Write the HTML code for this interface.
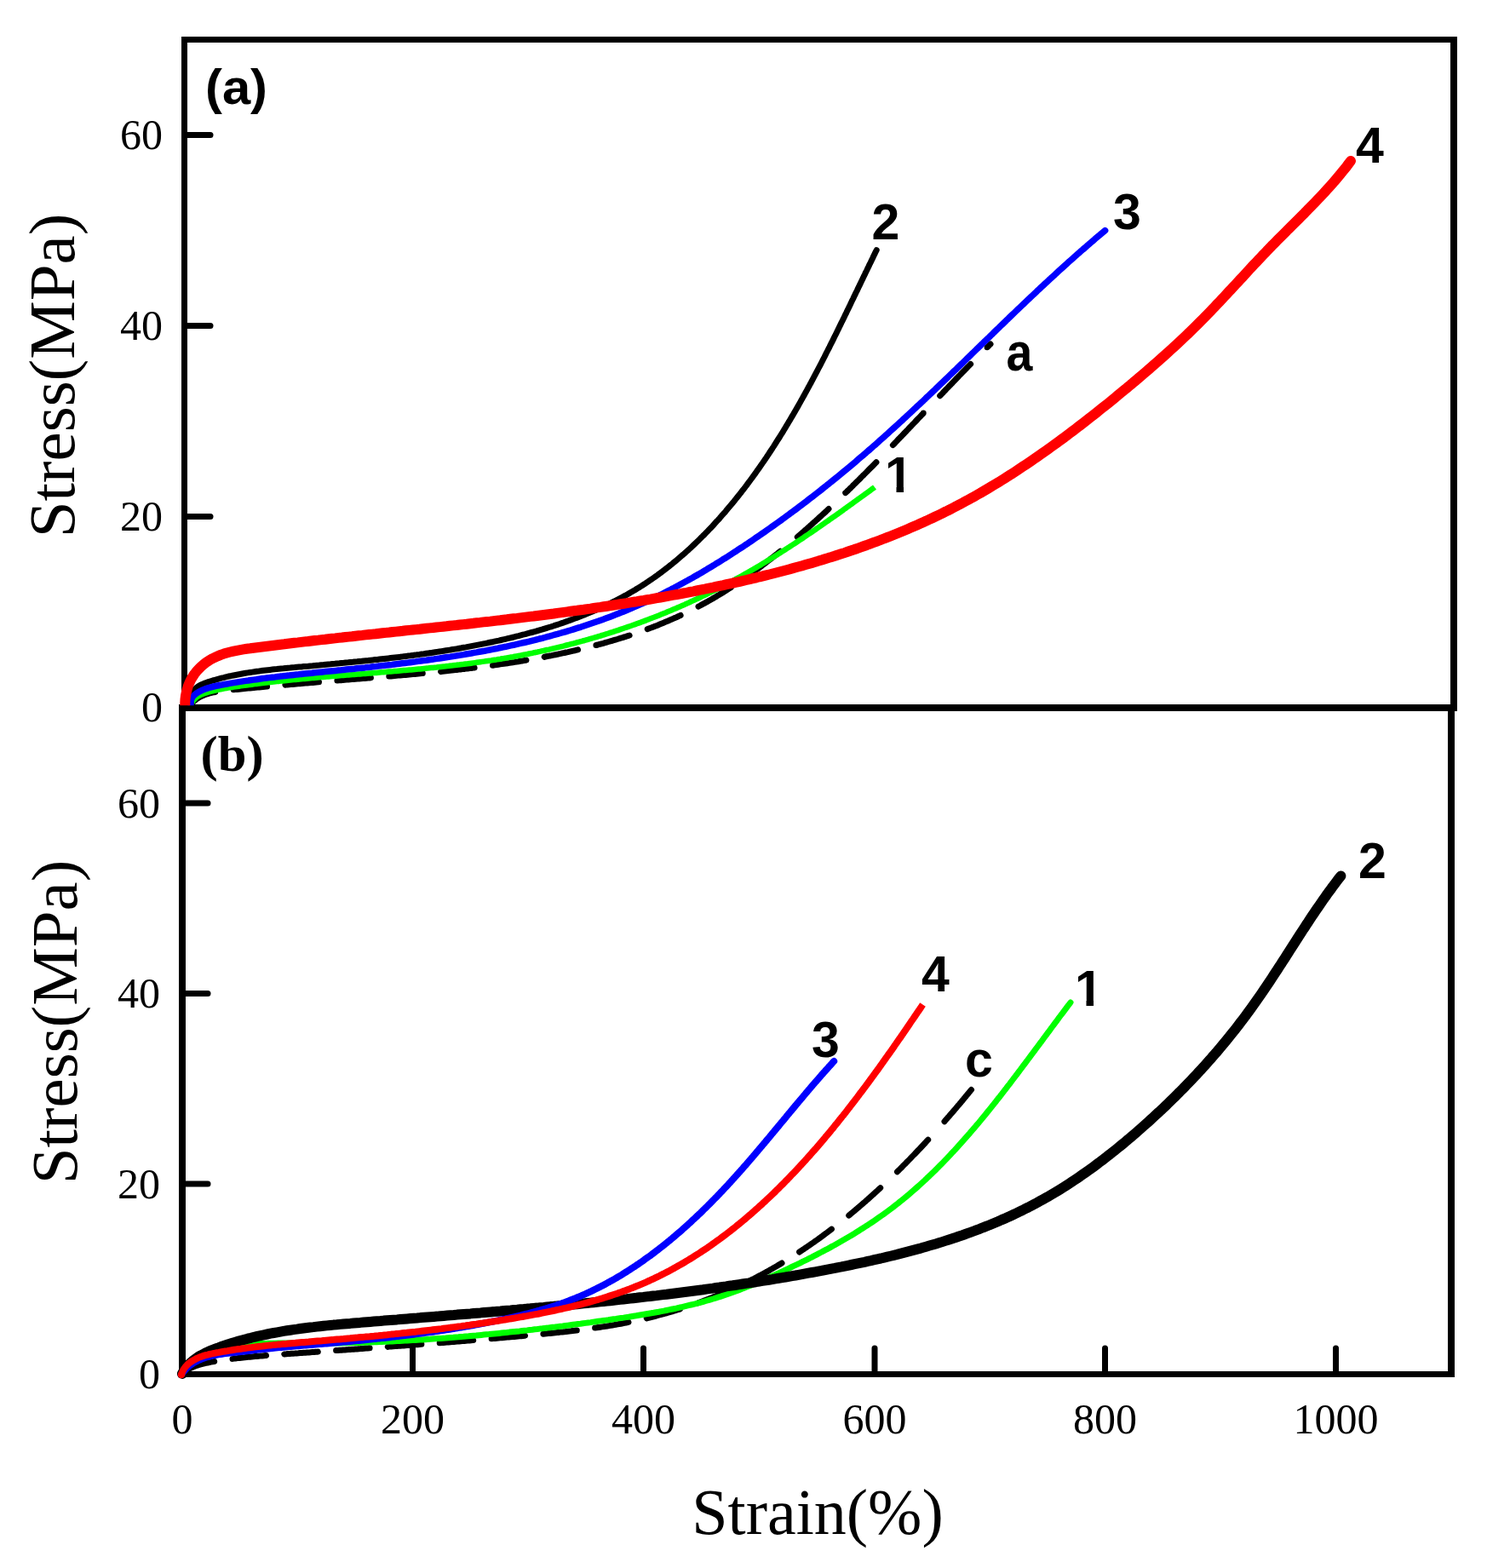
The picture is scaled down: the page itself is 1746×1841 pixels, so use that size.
<!DOCTYPE html>
<html><head><meta charset="utf-8"><title>Stress-Strain</title>
<style>html,body{margin:0;padding:0;background:#fff;overflow:hidden;width:1746px;height:1841px;}svg{display:block;}</style></head>
<body>
<svg width="1746" height="1841" viewBox="0 0 1746 1841">
<rect width="1746" height="1841" fill="#fff"/>
<defs>
<clipPath id="c1u"><rect x="1030" y="520" width="31" height="51.5"/><rect x="1052.5" y="571" width="8.5" height="15"/></clipPath>
<clipPath id="c1l"><rect x="1253" y="1120" width="31" height="54.5"/><rect x="1275.5" y="1174" width="8.5" height="15"/></clipPath>
<clipPath id="clipU"><rect x="0" y="0" width="1746" height="828.2"/></clipPath>
</defs>
<g id="frame">
<line x1="213" y1="46.5" x2="1711" y2="46.5" stroke="#000" stroke-width="7"/>
<line x1="216.5" y1="43" x2="216.5" y2="834" stroke="#000" stroke-width="7"/>
<line x1="1707" y1="43" x2="1707" y2="834" stroke="#000" stroke-width="8"/>
<line x1="210" y1="831" x2="1711" y2="831" stroke="#000" stroke-width="8"/>
<line x1="214" y1="828" x2="214" y2="1617" stroke="#000" stroke-width="8"/>
<line x1="1704" y1="828" x2="1704" y2="1617" stroke="#000" stroke-width="8"/>
<line x1="210" y1="1613.5" x2="1708" y2="1613.5" stroke="#000" stroke-width="7"/>
<line x1="218" y1="158.5" x2="247" y2="158.5" stroke="#000" stroke-width="7" stroke-linecap="round"/>
<line x1="218" y1="382.5" x2="247" y2="382.5" stroke="#000" stroke-width="7" stroke-linecap="round"/>
<line x1="218" y1="606.5" x2="247" y2="606.5" stroke="#000" stroke-width="7" stroke-linecap="round"/>
<line x1="216" y1="943" x2="244" y2="943" stroke="#000" stroke-width="7" stroke-linecap="round"/>
<line x1="216" y1="1166.5" x2="244" y2="1166.5" stroke="#000" stroke-width="7" stroke-linecap="round"/>
<line x1="216" y1="1390" x2="244" y2="1390" stroke="#000" stroke-width="7" stroke-linecap="round"/>
<line x1="484.5" y1="1612" x2="484.5" y2="1583" stroke="#000" stroke-width="7" stroke-linecap="round"/>
<line x1="755.5" y1="1612" x2="755.5" y2="1583" stroke="#000" stroke-width="7" stroke-linecap="round"/>
<line x1="1027" y1="1612" x2="1027" y2="1583" stroke="#000" stroke-width="7" stroke-linecap="round"/>
<line x1="1297.5" y1="1612" x2="1297.5" y2="1583" stroke="#000" stroke-width="7" stroke-linecap="round"/>
<line x1="1568.5" y1="1612" x2="1568.5" y2="1583" stroke="#000" stroke-width="7" stroke-linecap="round"/>
</g>
<g id="curves">
<g clip-path="url(#clipU)">
<path d="M223.9,827.5L224.2,827.2L225.6,825.5L227.0,823.9L228.6,822.5L230.3,821.2L232.0,820.0L233.7,818.9L235.6,817.9L237.5,817.0L239.4,816.2L241.4,815.5L243.4,814.8L245.4,814.2L247.4,813.7L249.5,813.2L251.6,812.7L252.8,812.5M274.2,809.8L274.2,809.8L276.4,809.6L278.5,809.4L280.7,809.2L282.8,809.0L285.0,808.8L287.2,808.5L289.3,808.3L291.5,808.1L293.6,807.9L295.8,807.7L298.0,807.5L300.1,807.3L302.3,807.1L304.4,806.9L306.6,806.7L308.7,806.5L310.9,806.3L313.0,806.1L313.6,806.1M335.0,804.2L335.2,804.1L337.3,804.0L339.5,803.8L341.6,803.6L343.7,803.4L345.9,803.2L348.0,803.0L350.2,802.8L352.3,802.7L354.4,802.5L356.6,802.3L358.7,802.1L360.8,801.9L363.0,801.7L365.1,801.6L367.3,801.4L369.4,801.2L371.5,801.0L373.7,800.8L374.5,800.8M395.9,799.0L396.1,799.0L398.3,798.8L400.4,798.7L402.5,798.5L404.7,798.3L406.8,798.1L409.0,798.0L411.1,797.8L413.3,797.6L415.4,797.4L417.5,797.3L419.7,797.1L421.8,796.9L424.0,796.8L426.1,796.6L428.3,796.4L430.4,796.2L432.6,796.1L434.7,795.9L435.4,795.8M456.8,794.1L456.9,794.1L459.1,793.9L461.2,793.7L463.3,793.5L465.5,793.3L467.6,793.1L469.8,793.0L471.9,792.8L474.1,792.6L476.2,792.4L478.4,792.2L480.5,792.0L482.7,791.8L484.8,791.6L487.0,791.4L489.1,791.2L491.3,791.0L493.4,790.8L495.6,790.6L496.3,790.6M517.7,788.5L517.8,788.4L519.9,788.2L522.1,788.0L524.2,787.8L526.3,787.5L528.5,787.3L530.6,787.1L532.8,786.8L534.9,786.6L537.1,786.4L539.2,786.1L541.4,785.9L543.5,785.6L545.6,785.4L547.8,785.1L549.9,784.9L552.1,784.6L554.2,784.4L556.4,784.1L557.1,784.0M578.5,781.2L578.8,781.2L580.9,780.9L583.1,780.6L585.2,780.3L587.3,779.9L589.5,779.6L591.6,779.3L593.7,779.0L595.9,778.7L598.0,778.4L600.1,778.0L602.3,777.7L604.4,777.4L606.5,777.0L608.6,776.7L610.8,776.3L612.9,776.0L615.0,775.6L617.1,775.3L617.9,775.1M639.3,771.3L639.4,771.2L641.5,770.8L643.6,770.4L645.7,770.0L647.8,769.6L650.0,769.1L652.1,768.7L654.2,768.3L656.3,767.8L658.4,767.4L660.5,766.9L662.6,766.5L664.7,766.0L666.8,765.6L668.9,765.1L671.0,764.6L673.1,764.1L675.2,763.7L677.3,763.2L678.6,762.9M699.9,757.5L700.0,757.5L702.0,757.0L704.1,756.4L706.2,755.8L708.3,755.3L710.4,754.7L712.4,754.1L714.5,753.5L716.6,752.9L718.6,752.3L720.7,751.7L722.8,751.1L724.8,750.5L726.9,749.8L729.0,749.2L731.0,748.6L733.1,747.9L735.1,747.3L737.2,746.6L739.1,746.0M760.2,738.6L760.5,738.5L762.5,737.7L764.6,737.0L766.6,736.2L768.6,735.4L770.6,734.7L772.6,733.9L774.6,733.1L776.5,732.3L778.5,731.5L780.5,730.6L782.5,729.8L784.5,729.0L786.4,728.1L788.4,727.3L790.4,726.4L792.3,725.5L794.3,724.7L796.3,723.8L798.2,722.9L799.1,722.5M820.0,712.1L820.3,712.0L822.2,711.0L824.1,709.9L826.0,708.9L827.9,707.9L829.7,706.8L831.6,705.8L833.5,704.7L835.3,703.7L837.2,702.6L839.1,701.5L840.9,700.4L842.7,699.3L844.6,698.2L846.4,697.1L848.3,696.0L850.1,694.8L851.9,693.7L853.7,692.6L855.5,691.4L857.4,690.2L858.2,689.7M878.8,675.8L878.8,675.7L880.5,674.5L882.3,673.2L884.0,672.0L885.8,670.7L887.5,669.4L889.3,668.2L891.0,666.9L892.7,665.6L894.5,664.3L896.2,663.0L897.9,661.7L899.6,660.4L901.3,659.0L903.0,657.7L904.7,656.4L906.4,655.1L908.1,653.7L909.8,652.4L911.5,651.0L913.2,649.7L914.9,648.3L916.2,647.3M936.3,630.5L936.5,630.3L938.1,628.9L939.8,627.5L941.4,626.1L943.0,624.7L944.6,623.2L946.3,621.8L947.9,620.4L949.5,619.0L951.1,617.5L952.7,616.1L954.3,614.6L955.9,613.2L957.5,611.8L959.1,610.3L960.7,608.9L962.3,607.4L963.9,606.0L965.5,604.5L967.1,603.0L968.7,601.6L970.3,600.1L971.8,598.6L973.0,597.5M992.7,578.7L992.9,578.6L994.4,577.1L996.0,575.6L997.5,574.1L999.1,572.6L1000.6,571.1L1002.1,569.5L1003.7,568.0L1005.2,566.5L1006.7,565.0L1008.3,563.5L1009.8,562.0L1011.3,560.4L1012.8,558.9L1014.4,557.4L1015.9,555.9L1017.4,554.4L1018.9,552.8L1020.4,551.3L1021.9,549.8L1023.5,548.2L1025.0,546.7L1026.5,545.2L1028.0,543.6L1028.9,542.7M1048.4,522.6L1048.5,522.5L1050.0,521.0L1051.5,519.4L1053.0,517.9L1054.4,516.3L1055.9,514.8L1057.4,513.2L1058.9,511.7L1060.4,510.1L1061.9,508.5L1063.4,507.0L1064.9,505.4L1066.4,503.9L1067.8,502.3L1069.3,500.8L1070.8,499.2L1072.3,497.6L1073.8,496.1L1075.3,494.5L1076.7,493.0L1078.2,491.4L1079.7,489.9L1081.2,488.3L1082.7,486.7L1084.2,485.2L1084.2,485.1M1103.7,464.7L1103.7,464.7L1105.2,463.1L1106.7,461.6L1108.1,460.0L1109.6,458.5L1111.1,456.9L1112.6,455.4L1114.1,453.8L1115.6,452.3L1117.1,450.7L1118.6,449.2L1120.1,447.6L1121.5,446.1L1123.0,444.5L1124.5,443.0L1126.0,441.4L1127.5,439.9L1129.0,438.3L1130.5,436.8L1132.0,435.3L1133.5,433.7L1135.0,432.2L1136.5,430.6L1138.0,429.1L1139.5,427.6L1139.6,427.5M1159.1,407.8L1159.2,407.8L1160.7,406.3L1162.2,404.7L1163.0,404.0" fill="none" stroke="#000" stroke-width="7" stroke-linecap="round" stroke-linejoin="round"/>
<path d="M224.5,827.0 L225.5,824.9 L226.7,823.1 L228.0,821.4 L229.5,819.9 L231.1,818.6 L232.8,817.4 L234.6,816.4 L236.5,815.5 L238.5,814.7 L240.5,814.0 L242.6,813.3 L244.6,812.7 L246.7,812.1 L248.8,811.5 L250.9,811.0 L253.0,810.5 L255.1,810.1 L257.2,809.6 L259.3,809.2 L261.5,808.8 L263.6,808.4 L265.7,808.0 L267.8,807.6 L270.0,807.3 L272.1,807.0 L274.2,806.6 L276.3,806.3 L278.5,806.0 L280.6,805.7 L282.7,805.4 L284.9,805.1 L287.0,804.8 L289.2,804.5 L291.3,804.2 L293.4,803.9 L295.6,803.7 L297.7,803.4 L299.8,803.1 L302.0,802.9 L304.1,802.6 L306.3,802.3 L308.4,802.1 L310.6,801.8 L312.7,801.6 L314.8,801.3 L317.0,801.1 L319.1,800.8 L321.3,800.6 L323.4,800.3 L325.6,800.1 L327.7,799.9 L329.9,799.6 L332.0,799.4 L334.1,799.2 L336.3,799.0 L338.4,798.7 L340.6,798.5 L342.7,798.3 L344.9,798.1 L347.0,797.9 L349.2,797.7 L351.3,797.5 L353.5,797.3 L355.6,797.1 L357.8,796.9 L359.9,796.7 L362.1,796.5 L364.2,796.3 L366.4,796.1 L368.5,795.9 L370.7,795.7 L372.8,795.5 L375.0,795.3 L377.1,795.1 L379.3,794.9 L381.5,794.8 L383.6,794.6 L385.8,794.4 L387.9,794.2 L390.1,794.0 L392.2,793.9 L394.4,793.7 L396.5,793.5 L398.7,793.3 L400.8,793.1 L403.0,793.0 L405.1,792.8 L407.3,792.6 L409.5,792.4 L411.6,792.3 L413.8,792.1 L415.9,791.9 L418.1,791.8 L420.2,791.6 L422.4,791.4 L424.5,791.2 L426.7,791.1 L428.8,790.9 L431.0,790.7 L433.2,790.5 L435.3,790.4 L437.5,790.2 L439.6,790.0 L441.8,789.9 L443.9,789.7 L446.1,789.5 L448.2,789.3 L450.4,789.2 L452.5,789.0 L454.7,788.8 L456.8,788.6 L459.0,788.4 L461.1,788.3 L463.3,788.1 L465.5,787.9 L467.6,787.7 L469.8,787.5 L471.9,787.3 L474.1,787.1 L476.2,787.0 L478.4,786.8 L480.5,786.6 L482.7,786.4 L484.8,786.2 L487.0,786.0 L489.1,785.8 L491.3,785.6 L493.4,785.4 L495.6,785.2 L497.7,785.0 L499.9,784.8 L502.0,784.6 L504.1,784.3 L506.3,784.1 L508.4,783.9 L510.6,783.7 L512.7,783.5 L514.9,783.2 L517.0,783.0 L519.2,782.8 L521.3,782.6 L523.5,782.3 L525.6,782.1 L527.7,781.8 L529.9,781.6 L532.0,781.3 L534.2,781.1 L536.3,780.8 L538.4,780.6 L540.6,780.3 L542.7,780.1 L544.9,779.8 L547.0,779.5 L549.1,779.3 L551.3,779.0 L553.4,778.7 L555.5,778.4 L557.7,778.1 L559.8,777.8 L561.9,777.5 L564.1,777.2 L566.2,776.9 L568.3,776.6 L570.5,776.3 L572.6,776.0 L574.7,775.7 L576.8,775.4 L579.0,775.0 L581.1,774.7 L583.2,774.4 L585.4,774.0 L587.5,773.7 L589.6,773.3 L591.7,773.0 L593.8,772.6 L596.0,772.3 L598.1,771.9 L600.2,771.5 L602.3,771.2 L604.4,770.8 L606.6,770.4 L608.7,770.0 L610.8,769.6 L612.9,769.2 L615.0,768.8 L617.1,768.4 L619.3,768.0 L621.4,767.5 L623.5,767.1 L625.6,766.7 L627.7,766.2 L629.8,765.8 L631.9,765.3 L634.0,764.9 L636.1,764.4 L638.2,764.0 L640.3,763.5 L642.4,763.0 L644.5,762.6 L646.6,762.1 L648.7,761.6 L650.8,761.1 L652.9,760.6 L655.0,760.1 L657.1,759.6 L659.2,759.1 L661.3,758.6 L663.4,758.0 L665.4,757.5 L667.5,757.0 L669.6,756.4 L671.7,755.9 L673.8,755.4 L675.9,754.8 L677.9,754.2 L680.0,753.7 L682.1,753.1 L684.2,752.5 L686.3,752.0 L688.3,751.4 L690.4,750.8 L692.5,750.2 L694.5,749.6 L696.6,749.0 L698.7,748.4 L700.7,747.8 L702.8,747.2 L704.9,746.6 L706.9,745.9 L709.0,745.3 L711.0,744.7 L713.1,744.0 L715.1,743.4 L717.2,742.7 L719.2,742.1 L721.3,741.4 L723.3,740.7 L725.4,740.1 L727.4,739.4 L729.5,738.7 L731.5,738.0 L733.5,737.3 L735.6,736.6 L737.6,735.9 L739.6,735.2 L741.7,734.5 L743.7,733.8 L745.7,733.1 L747.8,732.3 L749.8,731.6 L751.8,730.9 L753.8,730.1 L755.8,729.4 L757.9,728.6 L759.9,727.8 L761.9,727.1 L763.9,726.3 L765.9,725.5 L767.9,724.8 L769.9,724.0 L771.9,723.2 L773.9,722.4 L775.9,721.6 L777.9,720.8 L779.9,720.0 L781.9,719.2 L783.9,718.3 L785.9,717.5 L787.9,716.7 L789.9,715.8 L791.8,715.0 L793.8,714.2 L795.8,713.3 L797.8,712.5 L799.7,711.6 L801.7,710.7 L803.7,709.9 L805.6,709.0 L807.6,708.1 L809.6,707.2 L811.5,706.3 L813.5,705.4 L815.4,704.5 L817.4,703.6 L819.3,702.7 L821.3,701.8 L823.2,700.8 L825.2,699.9 L827.1,699.0 L829.1,698.0 L831.0,697.1 L832.9,696.1 L834.9,695.2 L836.8,694.2 L838.7,693.3 L840.6,692.3 L842.6,691.3 L844.5,690.3 L846.4,689.4 L848.3,688.4 L850.2,687.4 L852.1,686.4 L854.0,685.4 L855.9,684.3 L857.8,683.3 L859.7,682.3 L861.6,681.3 L863.5,680.2 L865.4,679.2 L867.3,678.2 L869.2,677.1 L871.1,676.1 L872.9,675.0 L874.8,673.9 L876.7,672.9 L878.6,671.8 L880.4,670.7 L882.3,669.6 L884.2,668.6 L886.0,667.5 L887.9,666.4 L889.7,665.3 L891.6,664.2 L893.5,663.1 L895.3,661.9 L897.2,660.8 L899.0,659.7 L900.8,658.6 L902.7,657.5 L904.5,656.3 L906.4,655.2 L908.2,654.1 L910.0,652.9 L911.9,651.8 L913.7,650.6 L915.5,649.5 L917.3,648.3 L919.2,647.1 L921.0,646.0 L922.8,644.8 L924.6,643.6 L926.4,642.5 L928.2,641.3 L930.0,640.1 L931.8,638.9 L933.7,637.7 L935.5,636.5 L937.3,635.3 L939.1,634.1 L940.9,633.0 L942.7,631.8 L944.4,630.5 L946.2,629.3 L948.0,628.1 L949.8,626.9 L951.6,625.7 L953.4,624.5 L955.2,623.3 L957.0,622.1 L958.7,620.8 L960.5,619.6 L962.3,618.4 L964.1,617.1 L965.8,615.9 L967.6,614.7 L969.4,613.4 L971.1,612.2 L972.9,611.0 L974.7,609.7 L976.4,608.5 L978.2,607.2 L980.0,606.0 L981.7,604.8 L983.5,603.5 L985.2,602.3 L987.0,601.0 L988.7,599.8 L990.5,598.5 L992.2,597.2 L994.0,596.0 L995.7,594.7 L997.5,593.5 L999.2,592.2 L1001.0,591.0 L1002.7,589.7 L1004.5,588.4 L1006.2,587.2 L1007.9,585.9 L1009.7,584.6 L1011.4,583.4 L1013.2,582.1 L1014.9,580.9 L1016.6,579.6 L1018.4,578.3 L1020.1,577.1 L1021.8,575.8 L1023.5,574.5 L1025.3,573.3 L1027.0,572.0" fill="none" stroke="#00ff00" stroke-width="6.5" stroke-linecap="butt" stroke-linejoin="round"/>
<path d="M224.5,826.5 L224.1,823.5 L224.0,820.6 L224.4,817.9 L225.1,815.4 L226.1,813.1 L227.4,810.9 L229.0,809.0 L230.8,807.3 L232.8,805.8 L235.0,804.5 L237.3,803.4 L239.7,802.4 L242.2,801.5 L244.7,800.6 L247.3,799.8 L249.8,799.0 L252.4,798.3 L254.9,797.6 L257.5,796.9 L260.0,796.2 L262.6,795.6 L265.2,794.9 L267.7,794.3 L270.3,793.8 L272.9,793.2 L275.5,792.7 L278.1,792.2 L280.7,791.7 L283.2,791.2 L285.8,790.7 L288.4,790.3 L291.0,789.9 L293.6,789.5 L296.2,789.1 L298.8,788.7 L301.5,788.3 L304.1,788.0 L306.7,787.6 L309.3,787.3 L311.9,787.0 L314.5,786.7 L317.1,786.4 L319.8,786.1 L322.4,785.8 L325.0,785.6 L327.6,785.3 L330.2,785.0 L332.9,784.8 L335.5,784.5 L338.1,784.3 L340.7,784.1 L343.4,783.8 L346.0,783.6 L348.6,783.3 L351.2,783.1 L353.9,782.9 L356.5,782.6 L359.1,782.4 L361.7,782.2 L364.3,781.9 L367.0,781.7 L369.6,781.4 L372.2,781.2 L374.8,781.0 L377.5,780.7 L380.1,780.5 L382.7,780.2 L385.3,780.0 L388.0,779.8 L390.6,779.5 L393.2,779.3 L395.8,779.0 L398.4,778.8 L401.1,778.5 L403.7,778.3 L406.3,778.0 L408.9,777.8 L411.5,777.5 L414.2,777.3 L416.8,777.0 L419.4,776.8 L422.0,776.5 L424.6,776.3 L427.2,776.0 L429.9,775.7 L432.5,775.5 L435.1,775.2 L437.7,774.9 L440.3,774.6 L442.9,774.4 L445.5,774.1 L448.2,773.8 L450.8,773.5 L453.4,773.2 L456.0,772.9 L458.6,772.6 L461.2,772.3 L463.8,772.0 L466.4,771.7 L469.1,771.4 L471.7,771.1 L474.3,770.7 L476.9,770.4 L479.5,770.1 L482.1,769.8 L484.7,769.4 L487.3,769.1 L489.9,768.7 L492.5,768.4 L495.1,768.0 L497.7,767.7 L500.3,767.3 L502.9,766.9 L505.5,766.6 L508.1,766.2 L510.7,765.8 L513.3,765.4 L515.9,765.0 L518.5,764.6 L521.1,764.2 L523.7,763.8 L526.3,763.4 L528.9,763.0 L531.5,762.5 L534.1,762.1 L536.7,761.7 L539.3,761.2 L541.9,760.8 L544.4,760.3 L547.0,759.9 L549.6,759.4 L552.2,758.9 L554.8,758.4 L557.4,757.9 L560.0,757.4 L562.6,756.9 L565.1,756.4 L567.7,755.9 L570.3,755.4 L572.9,754.8 L575.5,754.3 L578.0,753.8 L580.6,753.2 L583.2,752.6 L585.8,752.1 L588.3,751.5 L590.9,750.9 L593.5,750.3 L596.1,749.7 L598.6,749.1 L601.2,748.5 L603.8,747.8 L606.3,747.2 L608.9,746.6 L611.5,745.9 L614.0,745.2 L616.6,744.6 L619.1,743.9 L621.7,743.2 L624.3,742.5 L626.8,741.8 L629.4,741.1 L631.9,740.3 L634.4,739.6 L637.0,738.9 L639.5,738.1 L642.0,737.3 L644.6,736.5 L647.1,735.8 L649.6,735.0 L652.1,734.1 L654.7,733.3 L657.2,732.5 L659.7,731.6 L662.2,730.8 L664.7,729.9 L667.2,729.0 L669.6,728.1 L672.1,727.2 L674.6,726.3 L677.1,725.4 L679.5,724.5 L682.0,723.5 L684.4,722.5 L686.9,721.6 L689.3,720.6 L691.8,719.6 L694.2,718.6 L696.6,717.5 L699.0,716.5 L701.4,715.4 L703.8,714.4 L706.2,713.3 L708.6,712.2 L711.0,711.1 L713.3,710.0 L715.7,708.8 L718.0,707.7 L720.4,706.5 L722.7,705.3 L725.0,704.1 L727.4,702.9 L729.7,701.7 L732.0,700.4 L734.3,699.2 L736.5,697.9 L738.8,696.6 L741.1,695.3 L743.3,694.0 L745.6,692.7 L747.8,691.3 L750.0,690.0 L752.2,688.6 L754.4,687.2 L756.6,685.8 L758.8,684.3 L761.0,682.9 L763.1,681.4 L765.3,680.0 L767.4,678.5 L769.6,677.0 L771.7,675.5 L773.8,673.9 L775.9,672.4 L778.0,670.8 L780.0,669.2 L782.1,667.6 L784.2,666.0 L786.2,664.4 L788.3,662.8 L790.3,661.1 L792.3,659.5 L794.3,657.8 L796.3,656.1 L798.3,654.4 L800.3,652.7 L802.3,651.0 L804.2,649.3 L806.2,647.5 L808.1,645.8 L810.1,644.0 L812.0,642.2 L813.9,640.4 L815.8,638.6 L817.7,636.8 L819.6,635.0 L821.5,633.1 L823.3,631.3 L825.2,629.4 L827.1,627.6 L828.9,625.7 L830.7,623.8 L832.5,621.9 L834.4,620.0 L836.2,618.1 L838.0,616.1 L839.7,614.2 L841.5,612.2 L843.3,610.3 L845.1,608.3 L846.8,606.3 L848.5,604.3 L850.3,602.4 L852.0,600.4 L853.7,598.3 L855.4,596.3 L857.1,594.3 L858.8,592.3 L860.5,590.2 L862.2,588.2 L863.8,586.1 L865.5,584.0 L867.1,582.0 L868.8,579.9 L870.4,577.8 L872.0,575.7 L873.7,573.6 L875.3,571.5 L876.9,569.4 L878.4,567.3 L880.0,565.2 L881.6,563.0 L883.2,560.9 L884.7,558.8 L886.3,556.6 L887.8,554.5 L889.3,552.3 L890.9,550.1 L892.4,548.0 L893.9,545.8 L895.4,543.6 L896.9,541.5 L898.4,539.3 L899.9,537.1 L901.3,534.9 L902.8,532.7 L904.2,530.5 L905.7,528.3 L907.1,526.1 L908.6,523.9 L910.0,521.7 L911.4,519.4 L912.8,517.2 L914.2,515.0 L915.6,512.8 L917.0,510.5 L918.4,508.3 L919.8,506.1 L921.1,503.8 L922.5,501.6 L923.8,499.3 L925.2,497.1 L926.5,494.8 L927.9,492.6 L929.2,490.3 L930.5,488.1 L931.9,485.8 L933.2,483.5 L934.5,481.3 L935.8,479.0 L937.1,476.7 L938.4,474.4 L939.7,472.1 L940.9,469.9 L942.2,467.6 L943.5,465.3 L944.8,463.0 L946.0,460.7 L947.3,458.4 L948.5,456.1 L949.8,453.8 L951.0,451.5 L952.3,449.2 L953.5,446.9 L954.7,444.6 L956.0,442.2 L957.2,439.9 L958.4,437.6 L959.6,435.3 L960.8,433.0 L962.1,430.6 L963.3,428.3 L964.5,426.0 L965.7,423.7 L966.9,421.3 L968.1,419.0 L969.2,416.7 L970.4,414.3 L971.6,412.0 L972.8,409.6 L974.0,407.3 L975.1,405.0 L976.3,402.6 L977.5,400.3 L978.7,397.9 L979.8,395.6 L981.0,393.2 L982.2,390.9 L983.3,388.5 L984.5,386.1 L985.6,383.8 L986.8,381.4 L987.9,379.1 L989.1,376.7 L990.2,374.4 L991.4,372.0 L992.5,369.6 L993.7,367.3 L994.8,364.9 L996.0,362.5 L997.1,360.2 L998.3,357.8 L999.4,355.4 L1000.5,353.1 L1001.7,350.7 L1002.8,348.3 L1004.0,345.9 L1005.1,343.6 L1006.3,341.2 L1007.4,338.8 L1008.5,336.5 L1009.7,334.1 L1010.8,331.7 L1012.0,329.3 L1013.1,327.0 L1014.2,324.6 L1015.4,322.2 L1016.5,319.8 L1017.7,317.5 L1018.8,315.1 L1020.0,312.7 L1021.1,310.3 L1022.3,308.0 L1023.4,305.6 L1024.6,303.2 L1025.7,300.8 L1026.9,298.4 L1028.0,296.1 L1029.2,293.7" fill="none" stroke="#000" stroke-width="7" stroke-linecap="round" stroke-linejoin="round"/>
<path d="M224.0,827.0 L224.0,823.5 L224.9,820.6 L226.4,818.0 L228.4,815.9 L230.8,814.0 L233.4,812.4 L236.1,811.0 L239.0,809.7 L241.8,808.6 L244.8,807.6 L247.8,806.8 L250.9,806.0 L254.0,805.3 L257.1,804.7 L260.3,804.1 L263.4,803.5 L266.5,803.0 L269.7,802.4 L272.8,801.9 L276.0,801.4 L279.1,800.9 L282.2,800.4 L285.3,799.9 L288.5,799.4 L291.6,799.0 L294.7,798.5 L297.8,798.1 L301.0,797.7 L304.1,797.2 L307.2,796.8 L310.3,796.4 L313.4,796.0 L316.5,795.6 L319.6,795.2 L322.8,794.9 L325.9,794.5 L329.0,794.1 L332.1,793.8 L335.2,793.4 L338.3,793.1 L341.4,792.7 L344.5,792.4 L347.6,792.1 L350.7,791.8 L353.8,791.4 L356.9,791.1 L360.1,790.8 L363.2,790.5 L366.3,790.2 L369.4,789.8 L372.5,789.5 L375.6,789.2 L378.7,788.9 L381.8,788.6 L384.9,788.3 L388.0,788.0 L391.1,787.7 L394.3,787.4 L397.4,787.1 L400.5,786.8 L403.6,786.4 L406.7,786.1 L409.8,785.8 L413.0,785.5 L416.1,785.2 L419.2,784.8 L422.3,784.5 L425.5,784.2 L428.6,783.9 L431.7,783.5 L434.8,783.2 L438.0,782.8 L441.1,782.5 L444.2,782.1 L447.3,781.8 L450.5,781.4 L453.6,781.1 L456.7,780.7 L459.9,780.4 L463.0,780.0 L466.1,779.6 L469.2,779.2 L472.4,778.8 L475.5,778.5 L478.6,778.1 L481.8,777.7 L484.9,777.3 L488.0,776.9 L491.2,776.4 L494.3,776.0 L497.4,775.6 L500.5,775.2 L503.7,774.7 L506.8,774.3 L509.9,773.9 L513.0,773.4 L516.2,773.0 L519.3,772.5 L522.4,772.0 L525.5,771.5 L528.6,771.1 L531.8,770.6 L534.9,770.1 L538.0,769.6 L541.1,769.1 L544.2,768.6 L547.3,768.0 L550.4,767.5 L553.5,767.0 L556.6,766.4 L559.7,765.9 L562.8,765.3 L565.9,764.7 L569.0,764.2 L572.1,763.6 L575.2,763.0 L578.3,762.4 L581.4,761.8 L584.5,761.2 L587.6,760.5 L590.7,759.9 L593.7,759.3 L596.8,758.6 L599.9,757.9 L603.0,757.3 L606.0,756.6 L609.1,755.9 L612.2,755.2 L615.2,754.5 L618.3,753.8 L621.3,753.1 L624.4,752.3 L627.4,751.6 L630.5,750.8 L633.5,750.0 L636.6,749.3 L639.6,748.5 L642.6,747.7 L645.7,746.9 L648.7,746.0 L651.7,745.2 L654.7,744.4 L657.7,743.5 L660.7,742.7 L663.8,741.8 L666.8,740.9 L669.8,740.0 L672.7,739.1 L675.7,738.1 L678.7,737.2 L681.7,736.3 L684.7,735.3 L687.7,734.3 L690.6,733.3 L693.6,732.3 L696.5,731.3 L699.5,730.3 L702.5,729.3 L705.4,728.2 L708.3,727.2 L711.3,726.1 L714.2,725.0 L717.1,723.9 L720.1,722.8 L723.0,721.6 L725.9,720.5 L728.8,719.3 L731.7,718.2 L734.6,717.0 L737.5,715.8 L740.4,714.6 L743.2,713.3 L746.1,712.1 L749.0,710.8 L751.8,709.6 L754.7,708.3 L757.5,707.0 L760.4,705.7 L763.2,704.3 L766.1,703.0 L768.9,701.6 L771.7,700.2 L774.5,698.9 L777.3,697.5 L780.1,696.1 L782.9,694.6 L785.7,693.2 L788.5,691.7 L791.3,690.3 L794.1,688.8 L796.9,687.3 L799.6,685.8 L802.4,684.3 L805.1,682.8 L807.9,681.3 L810.6,679.7 L813.4,678.2 L816.1,676.6 L818.8,675.1 L821.6,673.5 L824.3,671.9 L827.0,670.3 L829.7,668.7 L832.4,667.0 L835.1,665.4 L837.8,663.8 L840.5,662.1 L843.2,660.5 L845.9,658.8 L848.5,657.1 L851.2,655.5 L853.9,653.8 L856.5,652.1 L859.2,650.4 L861.8,648.7 L864.5,647.0 L867.1,645.2 L869.7,643.5 L872.4,641.8 L875.0,640.0 L877.6,638.3 L880.2,636.5 L882.8,634.8 L885.4,633.0 L888.0,631.2 L890.6,629.5 L893.2,627.7 L895.8,625.9 L898.4,624.1 L900.9,622.3 L903.5,620.5 L906.1,618.7 L908.6,616.9 L911.2,615.0 L913.7,613.2 L916.3,611.4 L918.8,609.5 L921.3,607.7 L923.9,605.8 L926.4,604.0 L928.9,602.1 L931.4,600.3 L934.0,598.4 L936.5,596.5 L939.0,594.6 L941.5,592.7 L944.0,590.8 L946.5,588.9 L948.9,587.0 L951.4,585.1 L953.9,583.2 L956.4,581.3 L958.8,579.4 L961.3,577.4 L963.8,575.5 L966.2,573.5 L968.7,571.6 L971.1,569.6 L973.6,567.7 L976.0,565.7 L978.4,563.8 L980.9,561.8 L983.3,559.8 L985.7,557.8 L988.1,555.8 L990.6,553.8 L993.0,551.8 L995.4,549.8 L997.8,547.8 L1000.2,545.8 L1002.6,543.8 L1005.0,541.8 L1007.3,539.7 L1009.7,537.7 L1012.1,535.7 L1014.5,533.6 L1016.9,531.6 L1019.2,529.5 L1021.6,527.5 L1023.9,525.4 L1026.3,523.3 L1028.7,521.3 L1031.0,519.2 L1033.3,517.1 L1035.7,515.0 L1038.0,512.9 L1040.4,510.8 L1042.7,508.7 L1045.0,506.6 L1047.3,504.5 L1049.7,502.4 L1052.0,500.3 L1054.3,498.2 L1056.6,496.1 L1058.9,494.0 L1061.2,491.8 L1063.5,489.7 L1065.8,487.6 L1068.1,485.4 L1070.4,483.3 L1072.7,481.1 L1075.0,479.0 L1077.3,476.8 L1079.6,474.7 L1081.9,472.5 L1084.2,470.4 L1086.5,468.2 L1088.7,466.0 L1091.0,463.9 L1093.3,461.7 L1095.6,459.5 L1097.9,457.4 L1100.1,455.2 L1102.4,453.0 L1104.7,450.8 L1106.9,448.7 L1109.2,446.5 L1111.5,444.3 L1113.7,442.1 L1116.0,439.9 L1118.3,437.7 L1120.5,435.5 L1122.8,433.4 L1125.0,431.2 L1127.3,429.0 L1129.6,426.8 L1131.8,424.6 L1134.1,422.4 L1136.3,420.2 L1138.6,418.0 L1140.8,415.8 L1143.1,413.6 L1145.4,411.4 L1147.6,409.2 L1149.9,407.0 L1152.1,404.8 L1154.4,402.6 L1156.6,400.4 L1158.9,398.3 L1161.2,396.1 L1163.4,393.9 L1165.7,391.7 L1167.9,389.5 L1170.2,387.3 L1172.5,385.1 L1174.7,382.9 L1177.0,380.7 L1179.3,378.5 L1181.5,376.3 L1183.8,374.2 L1186.0,372.0 L1188.3,369.8 L1190.6,367.6 L1192.9,365.4 L1195.1,363.3 L1197.4,361.1 L1199.7,358.9 L1202.0,356.7 L1204.2,354.6 L1206.5,352.4 L1208.8,350.2 L1211.1,348.1 L1213.4,345.9 L1215.7,343.8 L1217.9,341.6 L1220.2,339.5 L1222.5,337.3 L1224.8,335.2 L1227.1,333.0 L1229.4,330.9 L1231.7,328.8 L1234.0,326.6 L1236.4,324.5 L1238.7,322.4 L1241.0,320.2 L1243.3,318.1 L1245.6,316.0 L1248.0,313.9 L1250.3,311.8 L1252.6,309.7 L1254.9,307.6 L1257.3,305.5 L1259.6,303.4 L1262.0,301.3 L1264.3,299.2 L1266.7,297.2 L1269.0,295.1 L1271.4,293.0 L1273.8,291.0 L1276.1,288.9 L1278.5,286.9 L1280.9,284.8 L1283.2,282.8 L1285.6,280.7 L1288.0,278.7 L1290.4,276.7 L1292.8,274.6 L1295.2,272.6 L1297.6,270.6" fill="none" stroke="#0000ff" stroke-width="7.5" stroke-linecap="round" stroke-linejoin="round"/>
<path d="M217.3,829.0 L217.3,824.9 L217.5,820.9 L218.0,816.9 L218.8,812.9 L219.8,809.0 L221.0,805.2 L222.5,801.6 L224.2,798.0 L226.2,794.6 L228.3,791.4 L230.7,788.3 L233.3,785.4 L236.0,782.7 L238.9,780.2 L242.0,777.8 L245.2,775.7 L248.6,773.7 L252.0,772.0 L255.5,770.4 L259.1,768.9 L262.8,767.6 L266.5,766.5 L270.3,765.5 L274.1,764.6 L278.0,763.8 L281.9,763.1 L285.9,762.4 L289.8,761.8 L293.8,761.3 L297.8,760.7 L301.8,760.2 L305.8,759.7 L309.8,759.2 L313.8,758.7 L317.8,758.2 L321.8,757.7 L325.8,757.2 L329.8,756.7 L333.8,756.3 L337.8,755.8 L341.7,755.3 L345.7,754.8 L349.7,754.4 L353.7,753.9 L357.7,753.4 L361.7,753.0 L365.7,752.5 L369.6,752.0 L373.6,751.6 L377.6,751.1 L381.6,750.7 L385.6,750.2 L389.6,749.8 L393.5,749.4 L397.5,748.9 L401.5,748.5 L405.5,748.0 L409.4,747.6 L413.4,747.2 L417.4,746.7 L421.3,746.3 L425.3,745.9 L429.3,745.4 L433.3,745.0 L437.2,744.6 L441.2,744.2 L445.2,743.7 L449.1,743.3 L453.1,742.9 L457.0,742.5 L461.0,742.0 L465.0,741.6 L468.9,741.2 L472.9,740.8 L476.8,740.3 L480.8,739.9 L484.8,739.5 L488.7,739.1 L492.7,738.7 L496.6,738.2 L500.6,737.8 L504.5,737.4 L508.5,737.0 L512.4,736.5 L516.4,736.1 L520.3,735.7 L524.3,735.3 L528.2,734.8 L532.2,734.4 L536.1,734.0 L540.1,733.5 L544.0,733.1 L547.9,732.7 L551.9,732.2 L555.8,731.8 L559.8,731.3 L563.7,730.9 L567.6,730.4 L571.6,730.0 L575.5,729.6 L579.5,729.1 L583.4,728.6 L587.3,728.2 L591.3,727.7 L595.2,727.3 L599.1,726.8 L603.1,726.3 L607.0,725.9 L610.9,725.4 L614.8,724.9 L618.8,724.4 L622.7,723.9 L626.6,723.5 L630.6,723.0 L634.5,722.5 L638.4,722.0 L642.3,721.5 L646.2,721.0 L650.2,720.5 L654.1,719.9 L658.0,719.4 L661.9,718.9 L665.8,718.4 L669.8,717.8 L673.7,717.3 L677.6,716.8 L681.5,716.2 L685.4,715.7 L689.3,715.1 L693.3,714.6 L697.2,714.0 L701.1,713.4 L705.0,712.9 L708.9,712.3 L712.8,711.7 L716.7,711.1 L720.6,710.5 L724.5,709.9 L728.4,709.3 L732.3,708.7 L736.2,708.1 L740.1,707.4 L744.1,706.8 L748.0,706.2 L751.9,705.5 L755.8,704.9 L759.7,704.2 L763.6,703.6 L767.5,702.9 L771.4,702.2 L775.3,701.5 L779.1,700.8 L783.0,700.1 L786.9,699.4 L790.8,698.7 L794.7,698.0 L798.6,697.3 L802.5,696.5 L806.4,695.8 L810.3,695.0 L814.2,694.3 L818.1,693.5 L822.0,692.7 L825.9,692.0 L829.7,691.2 L833.6,690.4 L837.5,689.6 L841.4,688.7 L845.3,687.9 L849.2,687.1 L853.1,686.2 L856.9,685.4 L860.8,684.5 L864.7,683.7 L868.6,682.8 L872.5,681.9 L876.3,681.0 L880.2,680.1 L884.1,679.2 L888.0,678.3 L891.8,677.3 L895.7,676.4 L899.6,675.4 L903.4,674.5 L907.3,673.5 L911.2,672.5 L915.0,671.5 L918.9,670.5 L922.7,669.5 L926.6,668.4 L930.4,667.4 L934.3,666.3 L938.1,665.3 L942.0,664.2 L945.8,663.1 L949.6,662.0 L953.4,660.9 L957.3,659.8 L961.1,658.6 L964.9,657.5 L968.7,656.3 L972.5,655.1 L976.3,654.0 L980.1,652.8 L983.9,651.5 L987.7,650.3 L991.5,649.1 L995.3,647.8 L999.0,646.5 L1002.8,645.3 L1006.6,644.0 L1010.3,642.6 L1014.1,641.3 L1017.8,640.0 L1021.5,638.6 L1025.3,637.2 L1029.0,635.9 L1032.7,634.5 L1036.4,633.0 L1040.1,631.6 L1043.8,630.2 L1047.5,628.7 L1051.2,627.2 L1054.9,625.7 L1058.5,624.2 L1062.2,622.7 L1065.8,621.2 L1069.5,619.6 L1073.1,618.0 L1076.8,616.4 L1080.4,614.8 L1084.0,613.2 L1087.6,611.6 L1091.2,609.9 L1094.8,608.2 L1098.4,606.5 L1101.9,604.8 L1105.5,603.1 L1109.0,601.3 L1112.6,599.6 L1116.1,597.8 L1119.6,596.0 L1123.1,594.2 L1126.6,592.3 L1130.1,590.5 L1133.6,588.6 L1137.1,586.7 L1140.6,584.8 L1144.0,582.9 L1147.5,580.9 L1150.9,579.0 L1154.3,577.0 L1157.7,575.0 L1161.1,573.0 L1164.5,570.9 L1167.9,568.9 L1171.3,566.8 L1174.7,564.8 L1178.0,562.7 L1181.4,560.6 L1184.7,558.4 L1188.1,556.3 L1191.4,554.2 L1194.7,552.0 L1198.0,549.8 L1201.3,547.6 L1204.6,545.4 L1207.9,543.2 L1211.2,541.0 L1214.5,538.7 L1217.7,536.5 L1221.0,534.2 L1224.2,531.9 L1227.5,529.6 L1230.7,527.3 L1233.9,525.0 L1237.2,522.7 L1240.4,520.4 L1243.6,518.0 L1246.8,515.6 L1250.0,513.3 L1253.1,510.9 L1256.3,508.5 L1259.5,506.1 L1262.7,503.7 L1265.8,501.3 L1269.0,498.9 L1272.1,496.5 L1275.3,494.0 L1278.4,491.6 L1281.5,489.1 L1284.6,486.7 L1287.8,484.2 L1290.9,481.7 L1294.0,479.2 L1297.1,476.8 L1300.2,474.3 L1303.3,471.8 L1306.3,469.3 L1309.4,466.8 L1312.5,464.2 L1315.6,461.7 L1318.6,459.2 L1321.7,456.7 L1324.7,454.1 L1327.8,451.6 L1330.8,449.0 L1333.9,446.5 L1336.9,443.9 L1339.9,441.4 L1342.9,438.8 L1345.9,436.2 L1348.9,433.6 L1351.9,431.0 L1354.9,428.4 L1357.9,425.8 L1360.8,423.2 L1363.8,420.5 L1366.8,417.9 L1369.7,415.3 L1372.6,412.6 L1375.6,409.9 L1378.5,407.3 L1381.4,404.6 L1384.3,401.9 L1387.2,399.2 L1390.0,396.5 L1392.9,393.7 L1395.8,391.0 L1398.6,388.2 L1401.4,385.5 L1404.2,382.7 L1407.1,379.9 L1409.9,377.1 L1412.6,374.3 L1415.4,371.5 L1418.2,368.6 L1420.9,365.8 L1423.7,362.9 L1426.4,360.1 L1429.1,357.2 L1431.9,354.3 L1434.6,351.4 L1437.3,348.5 L1440.0,345.6 L1442.7,342.7 L1445.4,339.8 L1448.1,336.9 L1450.8,334.0 L1453.5,331.1 L1456.2,328.2 L1458.9,325.3 L1461.5,322.4 L1464.2,319.4 L1466.9,316.5 L1469.6,313.6 L1472.3,310.7 L1475.1,307.8 L1477.8,304.9 L1480.5,302.1 L1483.2,299.2 L1486.0,296.3 L1488.7,293.4 L1491.5,290.6 L1494.2,287.7 L1497.0,284.9 L1499.8,282.1 L1502.6,279.3 L1505.4,276.5 L1508.2,273.7 L1511.0,270.8 L1513.8,268.1 L1516.6,265.3 L1519.4,262.5 L1522.2,259.7 L1525.1,256.9 L1527.9,254.1 L1530.7,251.3 L1533.4,248.4 L1536.2,245.6 L1539.0,242.8 L1541.8,239.9 L1544.5,237.1 L1547.3,234.2 L1550.0,231.4 L1552.7,228.5 L1555.4,225.6 L1558.1,222.6 L1560.7,219.7 L1563.4,216.7 L1566.0,213.8 L1568.6,210.8 L1571.2,207.7 L1573.7,204.7 L1576.2,201.6 L1578.7,198.5 L1581.2,195.4 L1583.6,192.2 L1586.0,189.0" fill="none" stroke="#ff0000" stroke-width="12" stroke-linecap="round" stroke-linejoin="round"/>
</g>
<path d="M214.0,1613.0L214.2,1612.7L215.7,1611.3L217.3,1610.1L219.0,1608.9L220.7,1607.9L222.5,1606.9L224.3,1606.0L226.2,1605.2L228.0,1604.4L229.9,1603.7L231.9,1603.1L233.8,1602.5L235.8,1601.9L237.8,1601.4L239.8,1600.9L241.8,1600.4L243.8,1600.0L245.8,1599.5L247.8,1599.1L249.9,1598.8L251.7,1598.5M273.0,1595.4L273.1,1595.4L275.1,1595.1L277.2,1594.9L279.2,1594.6L281.3,1594.4L283.3,1594.2L285.3,1594.0L287.4,1593.8L289.4,1593.5L291.5,1593.3L293.5,1593.2L295.6,1593.0L297.6,1592.8L299.6,1592.6L301.7,1592.4L303.7,1592.2L305.8,1592.1L307.8,1591.9L309.9,1591.7L311.9,1591.6L312.5,1591.5M333.8,1590.0L334.1,1589.9L336.1,1589.8L338.1,1589.6L340.2,1589.5L342.2,1589.3L344.3,1589.2L346.3,1589.1L348.4,1588.9L350.4,1588.8L352.5,1588.6L354.5,1588.5L356.5,1588.3L358.6,1588.2L360.6,1588.0L362.7,1587.9L364.7,1587.7L366.8,1587.6L368.8,1587.5L370.9,1587.3L372.9,1587.2L373.3,1587.1M394.6,1585.6L394.8,1585.6L396.8,1585.5L398.9,1585.3L400.9,1585.2L402.9,1585.0L405.0,1584.9L407.0,1584.7L409.1,1584.6L411.1,1584.4L413.2,1584.3L415.2,1584.2L417.3,1584.0L419.3,1583.9L421.4,1583.7L423.4,1583.6L425.5,1583.4L427.5,1583.3L429.6,1583.1L431.6,1583.0L433.7,1582.8L434.1,1582.8M455.4,1581.3L455.5,1581.2L457.6,1581.1L459.6,1580.9L461.7,1580.8L463.7,1580.6L465.8,1580.5L467.8,1580.3L469.9,1580.2L471.9,1580.0L474.0,1579.9L476.0,1579.7L478.1,1579.6L480.1,1579.4L482.2,1579.3L484.2,1579.1L486.3,1579.0L488.3,1578.8L490.4,1578.7L492.4,1578.5L494.5,1578.3L494.9,1578.3M516.2,1576.7L516.4,1576.7L518.4,1576.5L520.5,1576.4L522.5,1576.2L524.6,1576.0L526.6,1575.9L528.7,1575.7L530.7,1575.5L532.8,1575.4L534.8,1575.2L536.9,1575.1L538.9,1574.9L541.0,1574.7L543.0,1574.6L545.1,1574.4L547.1,1574.2L549.2,1574.1L551.2,1573.9L553.3,1573.7L555.3,1573.6L555.7,1573.5M577.1,1571.7L577.2,1571.7L579.2,1571.6L581.3,1571.4L583.3,1571.2L585.4,1571.0L587.4,1570.8L589.5,1570.7L591.5,1570.5L593.6,1570.3L595.6,1570.1L597.6,1569.9L599.7,1569.8L601.7,1569.6L603.8,1569.4L605.8,1569.2L607.9,1569.0L609.9,1568.8L612.0,1568.7L614.0,1568.5L616.1,1568.3L616.5,1568.2M637.9,1566.2L637.9,1566.2L639.9,1566.0L642.0,1565.8L644.0,1565.6L646.1,1565.4L648.1,1565.2L650.2,1565.0L652.2,1564.8L654.3,1564.6L656.3,1564.4L658.3,1564.1L660.4,1563.9L662.4,1563.7L664.5,1563.5L666.5,1563.2L668.5,1563.0L670.6,1562.8L672.6,1562.5L674.7,1562.3L676.7,1562.0L677.3,1562.0M698.6,1559.1L698.7,1559.1L700.7,1558.8L702.8,1558.5L704.8,1558.2L706.8,1557.9L708.9,1557.6L710.9,1557.3L712.9,1557.0L714.9,1556.6L716.9,1556.3L719.0,1556.0L721.0,1555.6L723.0,1555.3L725.0,1554.9L727.0,1554.5L729.1,1554.2L731.1,1553.8L733.1,1553.4L735.1,1553.0L737.1,1552.6L738.0,1552.4M759.3,1547.8L759.5,1547.7L761.5,1547.3L763.5,1546.8L765.5,1546.3L767.5,1545.8L769.5,1545.3L771.5,1544.7L773.4,1544.2L775.4,1543.7L777.4,1543.1L779.4,1542.6L781.4,1542.0L783.4,1541.5L785.3,1540.9L787.3,1540.3L789.3,1539.8L791.2,1539.2L793.2,1538.6L795.2,1538.0L797.2,1537.4L798.5,1536.9M819.6,1529.8L819.9,1529.7L821.8,1529.0L823.8,1528.3L825.7,1527.6L827.6,1526.8L829.6,1526.1L831.5,1525.4L833.4,1524.6L835.3,1523.9L837.2,1523.1L839.1,1522.3L841.1,1521.6L843.0,1520.8L844.9,1520.0L846.8,1519.2L848.7,1518.4L850.5,1517.6L852.4,1516.8L854.3,1516.0L856.2,1515.1L858.1,1514.3L858.6,1514.1M879.5,1504.2L879.8,1504.1L881.6,1503.1L883.4,1502.2L885.3,1501.3L887.1,1500.3L888.9,1499.4L890.7,1498.4L892.5,1497.5L894.3,1496.5L896.1,1495.5L897.9,1494.5L899.7,1493.5L901.5,1492.6L903.3,1491.6L905.1,1490.5L906.9,1489.5L908.6,1488.5L910.4,1487.5L912.2,1486.5L913.9,1485.4L915.7,1484.4L917.5,1483.3L918.0,1483.0M938.6,1470.0L938.8,1469.9L940.5,1468.7L942.2,1467.6L944.0,1466.5L945.6,1465.3L947.3,1464.2L949.0,1463.0L950.7,1461.9L952.4,1460.7L954.1,1459.5L955.8,1458.3L957.4,1457.2L959.1,1456.0L960.8,1454.8L962.4,1453.6L964.1,1452.4L965.7,1451.2L967.4,1449.9L969.0,1448.7L970.7,1447.5L972.3,1446.3L974.0,1445.0L975.6,1443.8L976.4,1443.1M996.7,1427.1L996.8,1427.0L998.4,1425.7L999.9,1424.4L1001.5,1423.1L1003.1,1421.8L1004.7,1420.4L1006.2,1419.1L1007.8,1417.8L1009.4,1416.4L1010.9,1415.1L1012.5,1413.8L1014.0,1412.4L1015.6,1411.1L1017.1,1409.7L1018.7,1408.3L1020.2,1407.0L1021.7,1405.6L1023.3,1404.2L1024.8,1402.8L1026.3,1401.5L1027.8,1400.1L1029.4,1398.7L1030.9,1397.3L1032.4,1395.9L1033.7,1394.7M1053.5,1375.7L1053.7,1375.5L1055.2,1374.1L1056.7,1372.6L1058.1,1371.2L1059.6,1369.7L1061.0,1368.2L1062.5,1366.8L1063.9,1365.3L1065.4,1363.8L1066.8,1362.4L1068.3,1360.9L1069.7,1359.4L1071.1,1357.9L1072.6,1356.4L1074.0,1355.0L1075.4,1353.5L1076.8,1352.0L1078.2,1350.5L1079.7,1349.0L1081.1,1347.5L1082.5,1346.0L1083.9,1344.5L1085.3,1343.0L1086.7,1341.5L1088.1,1339.9L1089.5,1338.4L1089.7,1338.2M1109.0,1316.7L1109.2,1316.5L1110.5,1314.9L1111.9,1313.4L1113.2,1311.8L1114.6,1310.3L1115.9,1308.7L1117.3,1307.2L1118.6,1305.6L1119.9,1304.1L1121.3,1302.5L1122.6,1301.0L1123.9,1299.4L1125.2,1297.8L1126.6,1296.3L1127.9,1294.7L1129.2,1293.1L1130.5,1291.6L1131.8,1290.0L1133.1,1288.4L1134.4,1286.9L1135.7,1285.3L1137.0,1283.7L1138.3,1282.1L1139.6,1280.5L1140.5,1279.5" fill="none" stroke="#000" stroke-width="7" stroke-linecap="round" stroke-linejoin="round"/>
<path d="M213.9,1612.0 L215.4,1609.3 L217.1,1606.7 L218.9,1604.4 L220.9,1602.1 L222.9,1600.0 L225.1,1598.1 L227.4,1596.2 L229.8,1594.5 L232.2,1592.9 L234.8,1591.5 L237.4,1590.1 L240.0,1588.8 L242.8,1587.6 L245.5,1586.6 L248.3,1585.6 L251.2,1584.7 L254.0,1583.8 L256.9,1583.1 L259.8,1582.4 L262.8,1581.7 L265.7,1581.2 L268.7,1580.7 L271.7,1580.2 L274.7,1579.8 L277.7,1579.4 L280.8,1579.1 L283.8,1578.8 L286.8,1578.6 L289.9,1578.4 L292.9,1578.2 L295.9,1578.0 L299.0,1577.9 L302.0,1577.7 L305.0,1577.6 L308.1,1577.5 L311.1,1577.4 L314.1,1577.3 L317.1,1577.3 L320.1,1577.2 L323.1,1577.2 L326.1,1577.1 L329.1,1577.1 L332.1,1577.1 L335.1,1577.1 L338.0,1577.1 L341.0,1577.1 L344.0,1577.1 L347.0,1577.1 L350.0,1577.1 L353.0,1577.1 L355.9,1577.1 L358.9,1577.1 L361.9,1577.1 L364.9,1577.1 L367.8,1577.1 L370.8,1577.1 L373.8,1577.1 L376.8,1577.1 L379.8,1577.1 L382.7,1577.1 L385.7,1577.1 L388.7,1577.0 L391.7,1577.0 L394.7,1577.0 L397.7,1576.9 L400.6,1576.9 L403.6,1576.8 L406.6,1576.7 L409.6,1576.7 L412.6,1576.6 L415.6,1576.5 L418.5,1576.5 L421.5,1576.4 L424.5,1576.3 L427.5,1576.2 L430.5,1576.1 L433.5,1576.0 L436.5,1575.9 L439.5,1575.8 L442.4,1575.7 L445.4,1575.5 L448.4,1575.4 L451.4,1575.3 L454.4,1575.2 L457.4,1575.0 L460.4,1574.9 L463.4,1574.7 L466.4,1574.6 L469.3,1574.4 L472.3,1574.3 L475.3,1574.1 L478.3,1573.9 L481.3,1573.8 L484.3,1573.6 L487.3,1573.4 L490.3,1573.2 L493.3,1573.0 L496.3,1572.9 L499.3,1572.7 L502.3,1572.5 L505.2,1572.3 L508.2,1572.0 L511.2,1571.8 L514.2,1571.6 L517.2,1571.4 L520.2,1571.2 L523.2,1571.0 L526.2,1570.7 L529.2,1570.5 L532.2,1570.3 L535.2,1570.0 L538.2,1569.8 L541.2,1569.5 L544.2,1569.3 L547.1,1569.0 L550.1,1568.8 L553.1,1568.5 L556.1,1568.2 L559.1,1568.0 L562.1,1567.7 L565.1,1567.4 L568.1,1567.1 L571.1,1566.8 L574.1,1566.6 L577.1,1566.3 L580.1,1566.0 L583.0,1565.7 L586.0,1565.4 L589.0,1565.1 L592.0,1564.8 L595.0,1564.5 L598.0,1564.1 L601.0,1563.8 L604.0,1563.5 L607.0,1563.2 L610.0,1562.9 L613.0,1562.5 L615.9,1562.2 L618.9,1561.9 L621.9,1561.5 L624.9,1561.2 L627.9,1560.8 L630.9,1560.5 L633.9,1560.1 L636.9,1559.8 L639.8,1559.4 L642.8,1559.1 L645.8,1558.7 L648.8,1558.3 L651.8,1558.0 L654.8,1557.6 L657.7,1557.2 L660.7,1556.9 L663.7,1556.5 L666.7,1556.1 L669.7,1555.7 L672.7,1555.3 L675.6,1554.9 L678.6,1554.5 L681.6,1554.2 L684.6,1553.8 L687.6,1553.4 L690.5,1553.0 L693.5,1552.6 L696.5,1552.1 L699.5,1551.7 L702.5,1551.3 L705.4,1550.9 L708.4,1550.5 L711.4,1550.1 L714.4,1549.7 L717.3,1549.2 L720.3,1548.8 L723.3,1548.4 L726.2,1547.9 L729.2,1547.5 L732.2,1547.1 L735.1,1546.6 L738.1,1546.2 L741.1,1545.7 L744.0,1545.2 L747.0,1544.8 L750.0,1544.3 L752.9,1543.8 L755.9,1543.3 L758.8,1542.8 L761.8,1542.3 L764.7,1541.8 L767.7,1541.3 L770.6,1540.7 L773.5,1540.2 L776.5,1539.6 L779.4,1539.1 L782.3,1538.5 L785.3,1537.9 L788.2,1537.3 L791.1,1536.7 L794.0,1536.1 L796.9,1535.4 L799.8,1534.8 L802.7,1534.1 L805.6,1533.4 L808.5,1532.7 L811.4,1532.0 L814.3,1531.3 L817.2,1530.6 L820.1,1529.8 L823.0,1529.1 L825.8,1528.3 L828.7,1527.5 L831.6,1526.7 L834.4,1525.8 L837.3,1525.0 L840.1,1524.1 L843.0,1523.2 L845.8,1522.3 L848.6,1521.4 L851.4,1520.5 L854.3,1519.5 L857.1,1518.5 L859.9,1517.5 L862.7,1516.5 L865.5,1515.5 L868.3,1514.4 L871.0,1513.3 L873.8,1512.2 L876.6,1511.1 L879.4,1510.0 L882.1,1508.9 L884.9,1507.7 L887.7,1506.6 L890.4,1505.4 L893.2,1504.2 L895.9,1503.0 L898.7,1501.8 L901.4,1500.6 L904.2,1499.4 L906.9,1498.1 L909.6,1496.9 L912.4,1495.6 L915.1,1494.4 L917.8,1493.1 L920.6,1491.9 L923.3,1490.6 L926.0,1489.3 L928.7,1488.0 L931.4,1486.7 L934.2,1485.4 L936.9,1484.1 L939.6,1482.8 L942.3,1481.4 L945.0,1480.1 L947.7,1478.8 L950.4,1477.4 L953.1,1476.1 L955.8,1474.7 L958.4,1473.3 L961.1,1471.9 L963.8,1470.5 L966.4,1469.1 L969.1,1467.7 L971.8,1466.3 L974.4,1464.9 L977.0,1463.4 L979.7,1462.0 L982.3,1460.5 L984.9,1459.0 L987.5,1457.5 L990.1,1456.0 L992.7,1454.5 L995.3,1453.0 L997.9,1451.5 L1000.5,1449.9 L1003.0,1448.4 L1005.6,1446.8 L1008.1,1445.2 L1010.7,1443.6 L1013.2,1442.0 L1015.7,1440.4 L1018.2,1438.8 L1020.7,1437.1 L1023.2,1435.5 L1025.7,1433.8 L1028.2,1432.1 L1030.6,1430.4 L1033.1,1428.7 L1035.5,1427.0 L1037.9,1425.3 L1040.4,1423.5 L1042.8,1421.7 L1045.1,1420.0 L1047.5,1418.2 L1049.9,1416.4 L1052.2,1414.5 L1054.6,1412.7 L1056.9,1410.8 L1059.2,1409.0 L1061.5,1407.1 L1063.8,1405.2 L1066.1,1403.3 L1068.4,1401.3 L1070.6,1399.4 L1072.9,1397.4 L1075.1,1395.5 L1077.4,1393.5 L1079.6,1391.5 L1081.8,1389.5 L1084.0,1387.5 L1086.2,1385.5 L1088.3,1383.4 L1090.5,1381.4 L1092.7,1379.3 L1094.8,1377.2 L1096.9,1375.2 L1099.1,1373.1 L1101.2,1370.9 L1103.3,1368.8 L1105.4,1366.7 L1107.5,1364.6 L1109.6,1362.4 L1111.6,1360.3 L1113.7,1358.1 L1115.8,1355.9 L1117.8,1353.7 L1119.9,1351.5 L1121.9,1349.3 L1123.9,1347.1 L1125.9,1344.9 L1127.9,1342.7 L1129.9,1340.4 L1131.9,1338.2 L1133.9,1335.9 L1135.9,1333.7 L1137.9,1331.4 L1139.8,1329.1 L1141.8,1326.8 L1143.7,1324.6 L1145.7,1322.3 L1147.6,1320.0 L1149.6,1317.7 L1151.5,1315.3 L1153.4,1313.0 L1155.3,1310.7 L1157.2,1308.4 L1159.1,1306.0 L1161.0,1303.7 L1162.9,1301.3 L1164.8,1299.0 L1166.7,1296.6 L1168.6,1294.3 L1170.4,1291.9 L1172.3,1289.5 L1174.2,1287.2 L1176.0,1284.8 L1177.9,1282.4 L1179.7,1280.0 L1181.6,1277.6 L1183.4,1275.2 L1185.3,1272.8 L1187.1,1270.4 L1188.9,1268.0 L1190.7,1265.6 L1192.6,1263.2 L1194.4,1260.8 L1196.2,1258.4 L1198.0,1256.0 L1199.8,1253.6 L1201.6,1251.2 L1203.4,1248.8 L1205.2,1246.4 L1207.0,1244.0 L1208.8,1241.6 L1210.6,1239.2 L1212.4,1236.7 L1214.2,1234.3 L1216.0,1231.9 L1217.8,1229.5 L1219.6,1227.1 L1221.4,1224.7 L1223.2,1222.3 L1224.9,1219.9 L1226.7,1217.5 L1228.5,1215.1 L1230.3,1212.7 L1232.1,1210.3 L1233.8,1207.9 L1235.6,1205.5 L1237.4,1203.1 L1239.2,1200.7 L1241.0,1198.3 L1242.7,1195.9 L1244.5,1193.5 L1246.3,1191.2 L1248.1,1188.8 L1249.9,1186.4 L1251.6,1184.1 L1253.4,1181.7 L1255.2,1179.4 L1257.0,1177.0" fill="none" stroke="#00ff00" stroke-width="7" stroke-linecap="round" stroke-linejoin="round"/>
<path d="M213.9,1612.9 L215.9,1609.4 L218.2,1606.2 L220.6,1603.2 L223.3,1600.5 L226.2,1598.0 L229.2,1595.6 L232.3,1593.5 L235.6,1591.5 L239.0,1589.7 L242.5,1587.9 L246.1,1586.3 L249.7,1584.8 L253.4,1583.4 L257.1,1582.1 L260.8,1580.7 L264.5,1579.5 L268.3,1578.2 L272.0,1577.1 L275.8,1575.9 L279.5,1574.8 L283.3,1573.7 L287.1,1572.7 L290.9,1571.7 L294.7,1570.8 L298.5,1569.8 L302.3,1568.9 L306.1,1568.1 L309.9,1567.3 L313.8,1566.5 L317.6,1565.7 L321.4,1565.0 L325.3,1564.3 L329.2,1563.6 L333.0,1562.9 L336.9,1562.3 L340.8,1561.7 L344.6,1561.1 L348.5,1560.6 L352.4,1560.0 L356.3,1559.5 L360.2,1559.0 L364.1,1558.5 L368.0,1558.1 L371.9,1557.6 L375.8,1557.2 L379.8,1556.8 L383.7,1556.4 L387.6,1556.0 L391.5,1555.6 L395.4,1555.3 L399.4,1554.9 L403.3,1554.5 L407.2,1554.2 L411.2,1553.9 L415.1,1553.5 L419.0,1553.2 L422.9,1552.9 L426.9,1552.5 L430.8,1552.2 L434.7,1551.9 L438.7,1551.6 L442.6,1551.3 L446.5,1551.0 L450.4,1550.6 L454.4,1550.3 L458.3,1550.0 L462.2,1549.7 L466.2,1549.4 L470.1,1549.0 L474.0,1548.7 L477.9,1548.4 L481.9,1548.1 L485.8,1547.8 L489.7,1547.5 L493.6,1547.1 L497.5,1546.8 L501.5,1546.5 L505.4,1546.2 L509.3,1545.9 L513.2,1545.6 L517.2,1545.2 L521.1,1544.9 L525.0,1544.6 L528.9,1544.3 L532.8,1544.0 L536.7,1543.6 L540.7,1543.3 L544.6,1543.0 L548.5,1542.7 L552.4,1542.4 L556.3,1542.0 L560.2,1541.7 L564.2,1541.4 L568.1,1541.0 L572.0,1540.7 L575.9,1540.4 L579.8,1540.1 L583.7,1539.7 L587.6,1539.4 L591.5,1539.0 L595.5,1538.7 L599.4,1538.4 L603.3,1538.0 L607.2,1537.7 L611.1,1537.3 L615.0,1537.0 L618.9,1536.6 L622.8,1536.3 L626.7,1535.9 L630.6,1535.6 L634.5,1535.2 L638.4,1534.9 L642.3,1534.5 L646.3,1534.1 L650.2,1533.8 L654.1,1533.4 L658.0,1533.0 L661.9,1532.7 L665.8,1532.3 L669.7,1531.9 L673.6,1531.5 L677.5,1531.2 L681.4,1530.8 L685.3,1530.4 L689.2,1530.0 L693.1,1529.6 L697.0,1529.2 L700.9,1528.8 L704.8,1528.4 L708.7,1528.0 L712.6,1527.6 L716.5,1527.2 L720.4,1526.8 L724.2,1526.4 L728.1,1525.9 L732.0,1525.5 L735.9,1525.1 L739.8,1524.6 L743.7,1524.2 L747.6,1523.8 L751.5,1523.3 L755.4,1522.9 L759.3,1522.4 L763.2,1522.0 L767.1,1521.5 L771.0,1521.1 L774.8,1520.6 L778.7,1520.1 L782.6,1519.7 L786.5,1519.2 L790.4,1518.7 L794.3,1518.2 L798.2,1517.7 L802.0,1517.2 L805.9,1516.7 L809.8,1516.2 L813.7,1515.7 L817.6,1515.2 L821.5,1514.7 L825.4,1514.2 L829.2,1513.6 L833.1,1513.1 L837.0,1512.6 L840.9,1512.0 L844.8,1511.5 L848.6,1510.9 L852.5,1510.4 L856.4,1509.8 L860.3,1509.3 L864.2,1508.7 L868.0,1508.1 L871.9,1507.5 L875.8,1506.9 L879.7,1506.4 L883.5,1505.8 L887.4,1505.2 L891.3,1504.5 L895.2,1503.9 L899.0,1503.3 L902.9,1502.7 L906.8,1502.1 L910.7,1501.4 L914.5,1500.8 L918.4,1500.1 L922.3,1499.5 L926.1,1498.8 L930.0,1498.1 L933.9,1497.5 L937.7,1496.8 L941.6,1496.1 L945.5,1495.4 L949.3,1494.7 L953.2,1494.0 L957.1,1493.3 L960.9,1492.6 L964.8,1491.9 L968.7,1491.1 L972.5,1490.4 L976.4,1489.6 L980.3,1488.9 L984.1,1488.1 L988.0,1487.4 L991.9,1486.6 L995.7,1485.8 L999.6,1485.0 L1003.4,1484.2 L1007.3,1483.4 L1011.1,1482.6 L1015.0,1481.8 L1018.8,1480.9 L1022.7,1480.1 L1026.5,1479.2 L1030.3,1478.3 L1034.2,1477.5 L1038.0,1476.6 L1041.8,1475.7 L1045.7,1474.7 L1049.5,1473.8 L1053.3,1472.9 L1057.1,1471.9 L1060.9,1470.9 L1064.7,1469.9 L1068.5,1468.9 L1072.3,1467.9 L1076.1,1466.9 L1079.9,1465.9 L1083.6,1464.8 L1087.4,1463.7 L1091.2,1462.6 L1094.9,1461.5 L1098.7,1460.4 L1102.4,1459.3 L1106.2,1458.1 L1109.9,1456.9 L1113.6,1455.7 L1117.4,1454.5 L1121.1,1453.3 L1124.8,1452.0 L1128.5,1450.8 L1132.2,1449.5 L1135.8,1448.2 L1139.5,1446.9 L1143.2,1445.5 L1146.8,1444.1 L1150.5,1442.8 L1154.1,1441.3 L1157.7,1439.9 L1161.4,1438.5 L1165.0,1437.0 L1168.6,1435.5 L1172.2,1434.0 L1175.7,1432.4 L1179.3,1430.9 L1182.9,1429.3 L1186.4,1427.7 L1190.0,1426.0 L1193.5,1424.4 L1197.0,1422.7 L1200.5,1421.0 L1204.0,1419.2 L1207.5,1417.5 L1211.0,1415.7 L1214.4,1413.8 L1217.9,1412.0 L1221.3,1410.1 L1224.7,1408.2 L1228.1,1406.3 L1231.5,1404.4 L1234.9,1402.4 L1238.3,1400.4 L1241.7,1398.3 L1245.0,1396.3 L1248.3,1394.2 L1251.7,1392.1 L1255.0,1390.0 L1258.3,1387.8 L1261.5,1385.6 L1264.8,1383.4 L1268.1,1381.2 L1271.3,1378.9 L1274.5,1376.7 L1277.8,1374.4 L1281.0,1372.1 L1284.2,1369.8 L1287.4,1367.4 L1290.5,1365.0 L1293.7,1362.7 L1296.8,1360.3 L1299.9,1357.8 L1303.1,1355.4 L1306.2,1352.9 L1309.3,1350.5 L1312.3,1348.0 L1315.4,1345.5 L1318.5,1343.0 L1321.5,1340.5 L1324.5,1337.9 L1327.6,1335.4 L1330.6,1332.8 L1333.6,1330.2 L1336.5,1327.6 L1339.5,1325.0 L1342.4,1322.4 L1345.4,1319.8 L1348.3,1317.2 L1351.2,1314.5 L1354.1,1311.9 L1357.0,1309.2 L1359.9,1306.5 L1362.8,1303.9 L1365.6,1301.2 L1368.5,1298.5 L1371.3,1295.8 L1374.1,1293.0 L1376.9,1290.3 L1379.7,1287.6 L1382.5,1284.8 L1385.2,1282.0 L1388.0,1279.3 L1390.7,1276.5 L1393.4,1273.7 L1396.1,1270.9 L1398.8,1268.1 L1401.5,1265.2 L1404.2,1262.4 L1406.8,1259.5 L1409.5,1256.7 L1412.1,1253.8 L1414.7,1250.9 L1417.3,1248.0 L1419.9,1245.1 L1422.5,1242.2 L1425.0,1239.2 L1427.6,1236.3 L1430.1,1233.3 L1432.6,1230.4 L1435.1,1227.4 L1437.6,1224.4 L1440.1,1221.4 L1442.6,1218.3 L1445.0,1215.3 L1447.4,1212.3 L1449.9,1209.2 L1452.3,1206.1 L1454.7,1203.0 L1457.0,1199.9 L1459.4,1196.8 L1461.8,1193.7 L1464.1,1190.5 L1466.4,1187.4 L1468.7,1184.2 L1471.0,1181.0 L1473.3,1177.8 L1475.6,1174.6 L1477.8,1171.4 L1480.1,1168.1 L1482.3,1164.9 L1484.5,1161.6 L1486.7,1158.4 L1488.9,1155.1 L1491.1,1151.8 L1493.3,1148.5 L1495.4,1145.2 L1497.6,1141.9 L1499.8,1138.6 L1501.9,1135.3 L1504.1,1132.0 L1506.2,1128.6 L1508.4,1125.3 L1510.5,1122.0 L1512.6,1118.7 L1514.8,1115.3 L1516.9,1112.0 L1519.0,1108.7 L1521.2,1105.4 L1523.3,1102.0 L1525.4,1098.7 L1527.6,1095.4 L1529.7,1092.1 L1531.9,1088.8 L1534.0,1085.5 L1536.2,1082.3 L1538.3,1079.0 L1540.5,1075.7 L1542.7,1072.5 L1544.9,1069.2 L1547.1,1066.0 L1549.3,1062.8 L1551.5,1059.6 L1553.7,1056.4 L1556.0,1053.2 L1558.2,1050.0 L1560.5,1046.9 L1562.8,1043.8 L1565.1,1040.6 L1567.4,1037.6 L1569.7,1034.5 L1572.0,1031.4 L1574.4,1028.4" fill="none" stroke="#000" stroke-width="12" stroke-linecap="round" stroke-linejoin="round"/>
<path d="M213.0,1614.0 L214.3,1612.0 L215.8,1610.2 L217.3,1608.5 L218.8,1606.9 L220.4,1605.4 L222.1,1603.9 L223.8,1602.6 L225.6,1601.4 L227.4,1600.2 L229.2,1599.1 L231.1,1598.1 L233.1,1597.1 L235.0,1596.3 L237.0,1595.4 L239.1,1594.7 L241.1,1594.0 L243.2,1593.3 L245.4,1592.8 L247.5,1592.2 L249.7,1591.7 L251.9,1591.2 L254.1,1590.8 L256.3,1590.4 L258.6,1590.1 L260.8,1589.7 L263.1,1589.4 L265.4,1589.1 L267.6,1588.8 L269.9,1588.5 L272.2,1588.3 L274.5,1588.0 L276.7,1587.7 L279.0,1587.5 L281.2,1587.2 L283.5,1587.0 L285.8,1586.7 L288.0,1586.4 L290.2,1586.2 L292.5,1585.9 L294.7,1585.7 L297.0,1585.4 L299.2,1585.1 L301.4,1584.9 L303.6,1584.6 L305.9,1584.4 L308.1,1584.1 L310.3,1583.9 L312.5,1583.7 L314.7,1583.4 L316.9,1583.2 L319.2,1583.0 L321.4,1582.7 L323.6,1582.5 L325.8,1582.3 L328.0,1582.1 L330.2,1581.9 L332.5,1581.7 L334.7,1581.5 L336.9,1581.3 L339.1,1581.1 L341.3,1580.9 L343.6,1580.7 L345.8,1580.5 L348.0,1580.3 L350.2,1580.2 L352.4,1580.0 L354.7,1579.8 L356.9,1579.6 L359.1,1579.4 L361.3,1579.2 L363.6,1579.1 L365.8,1578.9 L368.0,1578.7 L370.2,1578.5 L372.5,1578.3 L374.7,1578.1 L376.9,1578.0 L379.2,1577.8 L381.4,1577.6 L383.6,1577.4 L385.9,1577.2 L388.1,1577.0 L390.3,1576.8 L392.6,1576.6 L394.8,1576.4 L397.0,1576.2 L399.3,1576.0 L401.5,1575.8 L403.8,1575.6 L406.0,1575.4 L408.2,1575.2 L410.5,1575.0 L412.7,1574.8 L414.9,1574.5 L417.2,1574.3 L419.4,1574.1 L421.6,1573.9 L423.9,1573.7 L426.1,1573.5 L428.3,1573.2 L430.6,1573.0 L432.8,1572.8 L435.0,1572.6 L437.3,1572.3 L439.5,1572.1 L441.7,1571.9 L443.9,1571.6 L446.2,1571.4 L448.4,1571.1 L450.6,1570.9 L452.8,1570.7 L455.1,1570.4 L457.3,1570.2 L459.5,1569.9 L461.7,1569.6 L464.0,1569.4 L466.2,1569.1 L468.4,1568.9 L470.6,1568.6 L472.8,1568.3 L475.1,1568.1 L477.3,1567.8 L479.5,1567.5 L481.7,1567.2 L483.9,1567.0 L486.1,1566.7 L488.4,1566.4 L490.6,1566.1 L492.8,1565.8 L495.0,1565.5 L497.2,1565.2 L499.4,1564.9 L501.6,1564.6 L503.8,1564.3 L506.1,1564.0 L508.3,1563.7 L510.5,1563.3 L512.7,1563.0 L514.9,1562.7 L517.1,1562.4 L519.3,1562.0 L521.5,1561.7 L523.7,1561.4 L525.9,1561.0 L528.1,1560.7 L530.3,1560.3 L532.5,1560.0 L534.7,1559.6 L536.9,1559.2 L539.2,1558.9 L541.4,1558.5 L543.6,1558.1 L545.8,1557.7 L548.0,1557.4 L550.2,1557.0 L552.4,1556.6 L554.6,1556.2 L556.8,1555.8 L559.0,1555.4 L561.2,1555.0 L563.4,1554.6 L565.6,1554.1 L567.8,1553.7 L570.0,1553.3 L572.2,1552.9 L574.4,1552.4 L576.6,1552.0 L578.8,1551.5 L581.0,1551.1 L583.1,1550.6 L585.3,1550.2 L587.5,1549.7 L589.7,1549.2 L591.9,1548.8 L594.1,1548.3 L596.3,1547.8 L598.5,1547.3 L600.7,1546.8 L602.9,1546.3 L605.1,1545.8 L607.3,1545.3 L609.5,1544.8 L611.7,1544.3 L613.9,1543.7 L616.0,1543.2 L618.2,1542.6 L620.4,1542.1 L622.6,1541.5 L624.8,1540.9 L626.9,1540.4 L629.1,1539.8 L631.3,1539.2 L633.4,1538.6 L635.6,1537.9 L637.7,1537.3 L639.9,1536.7 L642.0,1536.0 L644.2,1535.4 L646.3,1534.7 L648.5,1534.0 L650.6,1533.4 L652.7,1532.7 L654.9,1531.9 L657.0,1531.2 L659.1,1530.5 L661.2,1529.7 L663.3,1529.0 L665.4,1528.2 L667.5,1527.4 L669.6,1526.6 L671.7,1525.8 L673.7,1525.0 L675.8,1524.2 L677.9,1523.3 L679.9,1522.5 L682.0,1521.6 L684.0,1520.7 L686.0,1519.8 L688.1,1518.9 L690.1,1518.0 L692.1,1517.0 L694.1,1516.1 L696.1,1515.1 L698.1,1514.1 L700.1,1513.2 L702.1,1512.2 L704.1,1511.2 L706.1,1510.1 L708.1,1509.1 L710.0,1508.1 L712.0,1507.0 L713.9,1505.9 L715.9,1504.9 L717.8,1503.8 L719.8,1502.7 L721.7,1501.6 L723.6,1500.5 L725.5,1499.3 L727.5,1498.2 L729.4,1497.1 L731.3,1495.9 L733.2,1494.7 L735.1,1493.5 L736.9,1492.4 L738.8,1491.2 L740.7,1489.9 L742.6,1488.7 L744.4,1487.5 L746.3,1486.3 L748.1,1485.0 L750.0,1483.8 L751.8,1482.5 L753.7,1481.2 L755.5,1479.9 L757.3,1478.6 L759.1,1477.3 L760.9,1476.0 L762.8,1474.7 L764.6,1473.4 L766.4,1472.0 L768.1,1470.7 L769.9,1469.3 L771.7,1468.0 L773.5,1466.6 L775.3,1465.2 L777.0,1463.9 L778.8,1462.5 L780.5,1461.1 L782.3,1459.7 L784.0,1458.2 L785.8,1456.8 L787.5,1455.4 L789.2,1454.0 L790.9,1452.5 L792.7,1451.1 L794.4,1449.6 L796.1,1448.1 L797.8,1446.7 L799.5,1445.2 L801.2,1443.7 L802.8,1442.2 L804.5,1440.7 L806.2,1439.2 L807.9,1437.7 L809.5,1436.2 L811.2,1434.7 L812.8,1433.1 L814.5,1431.6 L816.1,1430.1 L817.8,1428.5 L819.4,1427.0 L821.0,1425.4 L822.7,1423.9 L824.3,1422.3 L825.9,1420.7 L827.5,1419.2 L829.1,1417.6 L830.7,1416.0 L832.3,1414.4 L833.9,1412.8 L835.5,1411.2 L837.0,1409.6 L838.6,1408.0 L840.2,1406.4 L841.8,1404.8 L843.3,1403.2 L844.9,1401.6 L846.4,1399.9 L848.0,1398.3 L849.5,1396.7 L851.0,1395.0 L852.6,1393.4 L854.1,1391.8 L855.6,1390.1 L857.1,1388.5 L858.6,1386.8 L860.1,1385.2 L861.6,1383.5 L863.1,1381.8 L864.6,1380.2 L866.1,1378.5 L867.6,1376.8 L869.1,1375.2 L870.6,1373.5 L872.1,1371.8 L873.5,1370.1 L875.0,1368.5 L876.5,1366.8 L877.9,1365.1 L879.4,1363.4 L880.9,1361.7 L882.3,1360.0 L883.8,1358.3 L885.2,1356.6 L886.7,1354.9 L888.1,1353.2 L889.6,1351.5 L891.0,1349.8 L892.4,1348.1 L893.9,1346.4 L895.3,1344.7 L896.7,1343.0 L898.2,1341.3 L899.6,1339.6 L901.0,1337.9 L902.5,1336.2 L903.9,1334.5 L905.3,1332.7 L906.7,1331.0 L908.2,1329.3 L909.6,1327.6 L911.0,1325.9 L912.4,1324.2 L913.9,1322.5 L915.3,1320.7 L916.7,1319.0 L918.1,1317.3 L919.6,1315.6 L921.0,1313.9 L922.4,1312.2 L923.8,1310.4 L925.2,1308.7 L926.7,1307.0 L928.1,1305.3 L929.5,1303.6 L930.9,1301.9 L932.4,1300.1 L933.8,1298.4 L935.2,1296.7 L936.7,1295.0 L938.1,1293.3 L939.5,1291.6 L941.0,1289.9 L942.4,1288.2 L943.8,1286.5 L945.3,1284.7 L946.7,1283.0 L948.2,1281.3 L949.6,1279.6 L951.1,1277.9 L952.5,1276.2 L954.0,1274.5 L955.4,1272.8 L956.9,1271.1 L958.4,1269.5 L959.8,1267.8 L961.3,1266.1 L962.8,1264.4 L964.2,1262.7 L965.7,1261.0 L967.2,1259.3 L968.7,1257.7 L970.2,1256.0 L971.7,1254.3 L973.2,1252.6 L974.7,1251.0 L976.2,1249.3 L977.7,1247.6 L979.2,1246.0" fill="none" stroke="#0000ff" stroke-width="8" stroke-linecap="round" stroke-linejoin="round"/>
<path d="M213.0,1614.0 L213.9,1611.4 L215.0,1609.0 L216.3,1606.8 L217.8,1604.7 L219.5,1602.9 L221.3,1601.1 L223.2,1599.6 L225.2,1598.2 L227.4,1596.9 L229.6,1595.7 L231.8,1594.6 L234.2,1593.6 L236.6,1592.7 L239.0,1591.9 L241.4,1591.2 L243.9,1590.6 L246.5,1589.9 L249.0,1589.4 L251.6,1588.8 L254.1,1588.3 L256.7,1587.9 L259.3,1587.4 L261.9,1586.9 L264.5,1586.5 L267.0,1586.1 L269.6,1585.6 L272.2,1585.2 L274.8,1584.8 L277.3,1584.4 L279.9,1584.0 L282.5,1583.7 L285.1,1583.3 L287.7,1583.0 L290.2,1582.6 L292.8,1582.3 L295.4,1582.0 L298.0,1581.6 L300.6,1581.3 L303.1,1581.0 L305.7,1580.7 L308.3,1580.5 L310.9,1580.2 L313.4,1579.9 L316.0,1579.6 L318.6,1579.4 L321.2,1579.1 L323.8,1578.9 L326.3,1578.6 L328.9,1578.4 L331.5,1578.1 L334.1,1577.9 L336.6,1577.7 L339.2,1577.4 L341.8,1577.2 L344.4,1577.0 L346.9,1576.8 L349.5,1576.5 L352.1,1576.3 L354.6,1576.1 L357.2,1575.9 L359.8,1575.7 L362.4,1575.5 L364.9,1575.2 L367.5,1575.0 L370.1,1574.8 L372.6,1574.6 L375.2,1574.4 L377.8,1574.2 L380.3,1573.9 L382.9,1573.7 L385.5,1573.5 L388.0,1573.3 L390.6,1573.1 L393.2,1572.8 L395.7,1572.6 L398.3,1572.4 L400.8,1572.2 L403.4,1572.0 L406.0,1571.7 L408.5,1571.5 L411.1,1571.3 L413.6,1571.0 L416.2,1570.8 L418.7,1570.6 L421.3,1570.3 L423.9,1570.1 L426.4,1569.9 L429.0,1569.6 L431.5,1569.4 L434.1,1569.2 L436.6,1568.9 L439.2,1568.7 L441.8,1568.4 L444.3,1568.2 L446.9,1567.9 L449.4,1567.7 L452.0,1567.4 L454.5,1567.2 L457.1,1566.9 L459.6,1566.6 L462.2,1566.4 L464.7,1566.1 L467.3,1565.9 L469.8,1565.6 L472.4,1565.3 L475.0,1565.0 L477.5,1564.8 L480.1,1564.5 L482.6,1564.2 L485.2,1563.9 L487.7,1563.7 L490.3,1563.4 L492.8,1563.1 L495.4,1562.8 L497.9,1562.5 L500.5,1562.2 L503.0,1561.9 L505.6,1561.6 L508.2,1561.3 L510.7,1561.0 L513.3,1560.7 L515.8,1560.4 L518.4,1560.1 L520.9,1559.7 L523.5,1559.4 L526.0,1559.1 L528.6,1558.8 L531.2,1558.4 L533.7,1558.1 L536.3,1557.8 L538.8,1557.4 L541.4,1557.1 L544.0,1556.7 L546.5,1556.4 L549.1,1556.0 L551.6,1555.7 L554.2,1555.3 L556.8,1554.9 L559.3,1554.6 L561.9,1554.2 L564.4,1553.8 L567.0,1553.5 L569.6,1553.1 L572.1,1552.7 L574.7,1552.3 L577.3,1551.9 L579.8,1551.5 L582.4,1551.1 L585.0,1550.7 L587.5,1550.3 L590.1,1549.9 L592.7,1549.5 L595.2,1549.0 L597.8,1548.6 L600.4,1548.2 L603.0,1547.8 L605.5,1547.3 L608.1,1546.9 L610.7,1546.4 L613.3,1546.0 L615.8,1545.5 L618.4,1545.1 L621.0,1544.6 L623.6,1544.1 L626.1,1543.6 L628.7,1543.1 L631.3,1542.7 L633.9,1542.2 L636.4,1541.7 L639.0,1541.1 L641.6,1540.6 L644.1,1540.1 L646.7,1539.6 L649.3,1539.0 L651.8,1538.5 L654.4,1537.9 L657.0,1537.4 L659.5,1536.8 L662.1,1536.2 L664.6,1535.7 L667.2,1535.1 L669.7,1534.5 L672.3,1533.8 L674.8,1533.2 L677.3,1532.6 L679.9,1532.0 L682.4,1531.3 L684.9,1530.7 L687.4,1530.0 L690.0,1529.3 L692.5,1528.6 L695.0,1527.9 L697.5,1527.2 L700.0,1526.5 L702.5,1525.8 L705.0,1525.0 L707.5,1524.3 L709.9,1523.5 L712.4,1522.7 L714.9,1521.9 L717.3,1521.1 L719.8,1520.3 L722.2,1519.5 L724.7,1518.7 L727.1,1517.8 L729.6,1517.0 L732.0,1516.1 L734.4,1515.2 L736.8,1514.3 L739.2,1513.4 L741.6,1512.4 L744.0,1511.5 L746.4,1510.5 L748.8,1509.6 L751.1,1508.6 L753.5,1507.6 L755.8,1506.6 L758.2,1505.6 L760.5,1504.5 L762.8,1503.5 L765.1,1502.4 L767.5,1501.3 L769.8,1500.2 L772.1,1499.1 L774.4,1498.0 L776.6,1496.8 L778.9,1495.7 L781.2,1494.5 L783.4,1493.4 L785.7,1492.2 L787.9,1491.0 L790.2,1489.8 L792.4,1488.5 L794.6,1487.3 L796.8,1486.0 L799.1,1484.8 L801.3,1483.5 L803.5,1482.2 L805.6,1480.9 L807.8,1479.6 L810.0,1478.3 L812.2,1477.0 L814.3,1475.6 L816.5,1474.2 L818.6,1472.9 L820.8,1471.5 L822.9,1470.1 L825.0,1468.7 L827.1,1467.3 L829.3,1465.9 L831.4,1464.4 L833.5,1463.0 L835.6,1461.5 L837.6,1460.0 L839.7,1458.6 L841.8,1457.1 L843.9,1455.6 L845.9,1454.1 L848.0,1452.5 L850.0,1451.0 L852.1,1449.5 L854.1,1447.9 L856.1,1446.4 L858.1,1444.8 L860.1,1443.2 L862.2,1441.6 L864.2,1440.0 L866.1,1438.4 L868.1,1436.8 L870.1,1435.2 L872.1,1433.5 L874.1,1431.9 L876.0,1430.2 L878.0,1428.5 L879.9,1426.9 L881.9,1425.2 L883.8,1423.5 L885.8,1421.8 L887.7,1420.1 L889.6,1418.4 L891.5,1416.6 L893.4,1414.9 L895.3,1413.2 L897.2,1411.4 L899.1,1409.7 L901.0,1407.9 L902.9,1406.1 L904.8,1404.3 L906.6,1402.6 L908.5,1400.8 L910.4,1399.0 L912.2,1397.1 L914.1,1395.3 L915.9,1393.5 L917.7,1391.7 L919.6,1389.8 L921.4,1388.0 L923.2,1386.1 L925.0,1384.3 L926.8,1382.4 L928.6,1380.5 L930.4,1378.6 L932.2,1376.8 L934.0,1374.9 L935.8,1373.0 L937.6,1371.1 L939.3,1369.2 L941.1,1367.2 L942.9,1365.3 L944.6,1363.4 L946.4,1361.5 L948.1,1359.5 L949.9,1357.6 L951.6,1355.6 L953.3,1353.7 L955.0,1351.7 L956.8,1349.7 L958.5,1347.8 L960.2,1345.8 L961.9,1343.8 L963.6,1341.8 L965.3,1339.8 L967.0,1337.8 L968.7,1335.8 L970.3,1333.8 L972.0,1331.8 L973.7,1329.8 L975.4,1327.8 L977.0,1325.8 L978.7,1323.8 L980.3,1321.7 L982.0,1319.7 L983.6,1317.7 L985.3,1315.6 L986.9,1313.6 L988.5,1311.5 L990.2,1309.5 L991.8,1307.4 L993.4,1305.4 L995.0,1303.3 L996.6,1301.2 L998.2,1299.2 L999.8,1297.1 L1001.4,1295.0 L1003.0,1293.0 L1004.6,1290.9 L1006.2,1288.8 L1007.8,1286.7 L1009.3,1284.6 L1010.9,1282.6 L1012.5,1280.5 L1014.0,1278.4 L1015.6,1276.3 L1017.2,1274.2 L1018.7,1272.1 L1020.3,1270.0 L1021.8,1267.9 L1023.3,1265.8 L1024.9,1263.7 L1026.4,1261.6 L1027.9,1259.5 L1029.5,1257.4 L1031.0,1255.3 L1032.5,1253.2 L1034.0,1251.1 L1035.5,1249.0 L1037.0,1246.9 L1038.5,1244.7 L1040.0,1242.6 L1041.5,1240.5 L1043.0,1238.4 L1044.5,1236.3 L1046.0,1234.2 L1047.5,1232.1 L1049.0,1230.0 L1050.4,1227.8 L1051.9,1225.7 L1053.4,1223.6 L1054.8,1221.5 L1056.3,1219.4 L1057.8,1217.3 L1059.2,1215.2 L1060.7,1213.1 L1062.1,1211.0 L1063.6,1208.9 L1065.0,1206.8 L1066.4,1204.7 L1067.9,1202.5 L1069.3,1200.4 L1070.7,1198.3 L1072.2,1196.2 L1073.6,1194.1 L1075.0,1192.1 L1076.4,1190.0 L1077.8,1187.9 L1079.3,1185.8 L1080.7,1183.7 L1082.1,1181.6 L1083.5,1179.5" fill="none" stroke="#ff0000" stroke-width="8" stroke-linecap="butt" stroke-linejoin="round"/>
<circle cx="213.0" cy="1614.0" r="4.25" fill="#ff0000"/>
</g>
<g id="text" fill="#000">
<text x="191" y="175.0" font-family='"Liberation Serif", "Times New Roman", serif' font-size="50" font-weight="normal" text-anchor="end">60</text>
<text x="191" y="399.0" font-family='"Liberation Serif", "Times New Roman", serif' font-size="50" font-weight="normal" text-anchor="end">40</text>
<text x="191" y="623.0" font-family='"Liberation Serif", "Times New Roman", serif' font-size="50" font-weight="normal" text-anchor="end">20</text>
<text x="191" y="847.0" font-family='"Liberation Serif", "Times New Roman", serif' font-size="50" font-weight="normal" text-anchor="end">0</text>
<text x="188" y="959.5" font-family='"Liberation Serif", "Times New Roman", serif' font-size="50" font-weight="normal" text-anchor="end">60</text>
<text x="188" y="1183.0" font-family='"Liberation Serif", "Times New Roman", serif' font-size="50" font-weight="normal" text-anchor="end">40</text>
<text x="188" y="1406.5" font-family='"Liberation Serif", "Times New Roman", serif' font-size="50" font-weight="normal" text-anchor="end">20</text>
<text x="188" y="1630.0" font-family='"Liberation Serif", "Times New Roman", serif' font-size="50" font-weight="normal" text-anchor="end">0</text>
<text x="214" y="1683" font-family='"Liberation Serif", "Times New Roman", serif' font-size="50" font-weight="normal" text-anchor="middle">0</text>
<text x="484.5" y="1683" font-family='"Liberation Serif", "Times New Roman", serif' font-size="50" font-weight="normal" text-anchor="middle">200</text>
<text x="755.5" y="1683" font-family='"Liberation Serif", "Times New Roman", serif' font-size="50" font-weight="normal" text-anchor="middle">400</text>
<text x="1027" y="1683" font-family='"Liberation Serif", "Times New Roman", serif' font-size="50" font-weight="normal" text-anchor="middle">600</text>
<text x="1297.5" y="1683" font-family='"Liberation Serif", "Times New Roman", serif' font-size="50" font-weight="normal" text-anchor="middle">800</text>
<text x="1568.5" y="1683" font-family='"Liberation Serif", "Times New Roman", serif' font-size="50" font-weight="normal" text-anchor="middle">1000</text>
<text x="0" y="0" font-family='"Liberation Serif", "Times New Roman", serif' font-size="77" font-weight="normal" text-anchor="middle" transform="translate(87,441) rotate(-90)">Stress(MPa)</text>
<text x="0" y="0" font-family='"Liberation Serif", "Times New Roman", serif' font-size="77" font-weight="normal" text-anchor="middle" transform="translate(90,1200) rotate(-90)">Stress(MPa)</text>
<text x="960" y="1801" font-family='"Liberation Serif", "Times New Roman", serif' font-size="76" font-weight="normal" text-anchor="middle">Strain(%)</text>
<text x="0" y="0" font-family='"Liberation Sans", Arial, sans-serif' font-size="58" font-weight="bold" text-anchor="start" transform="translate(241,122) scale(1.03,1)">(a)</text>
<text x="0" y="0" font-family='"Liberation Serif", "Times New Roman", serif' font-size="58" font-weight="bold" text-anchor="start" transform="translate(235.5,905) scale(1.045,1.01)">(b)</text>
<text x="1023.5" y="281" font-family='"Liberation Sans", Arial, sans-serif' font-size="59" font-weight="bold" text-anchor="start">2</text>
<text x="1307" y="269" font-family='"Liberation Sans", Arial, sans-serif' font-size="59" font-weight="bold" text-anchor="start">3</text>
<text x="1592" y="191" font-family='"Liberation Sans", Arial, sans-serif' font-size="59" font-weight="bold" text-anchor="start">4</text>
<text x="1039" y="578" font-family='"Liberation Sans", Arial, sans-serif' font-size="59" font-weight="bold" text-anchor="start" clip-path="url(#c1u)">1</text>
<text x="0" y="0" font-family='"Liberation Sans", Arial, sans-serif' font-size="59" font-weight="bold" text-anchor="start" transform="translate(1181.5,435) scale(0.94,1.07)">a</text>
<text x="1595" y="1031" font-family='"Liberation Sans", Arial, sans-serif' font-size="59" font-weight="bold" text-anchor="start">2</text>
<text x="953" y="1241" font-family='"Liberation Sans", Arial, sans-serif' font-size="59" font-weight="bold" text-anchor="start">3</text>
<text x="1082" y="1164" font-family='"Liberation Sans", Arial, sans-serif' font-size="59" font-weight="bold" text-anchor="start">4</text>
<text x="1262" y="1181" font-family='"Liberation Sans", Arial, sans-serif' font-size="59" font-weight="bold" text-anchor="start" clip-path="url(#c1l)">1</text>
<text x="1133" y="1264" font-family='"Liberation Sans", Arial, sans-serif' font-size="59" font-weight="bold" text-anchor="start">c</text>
</g>
</svg>
</body></html>
